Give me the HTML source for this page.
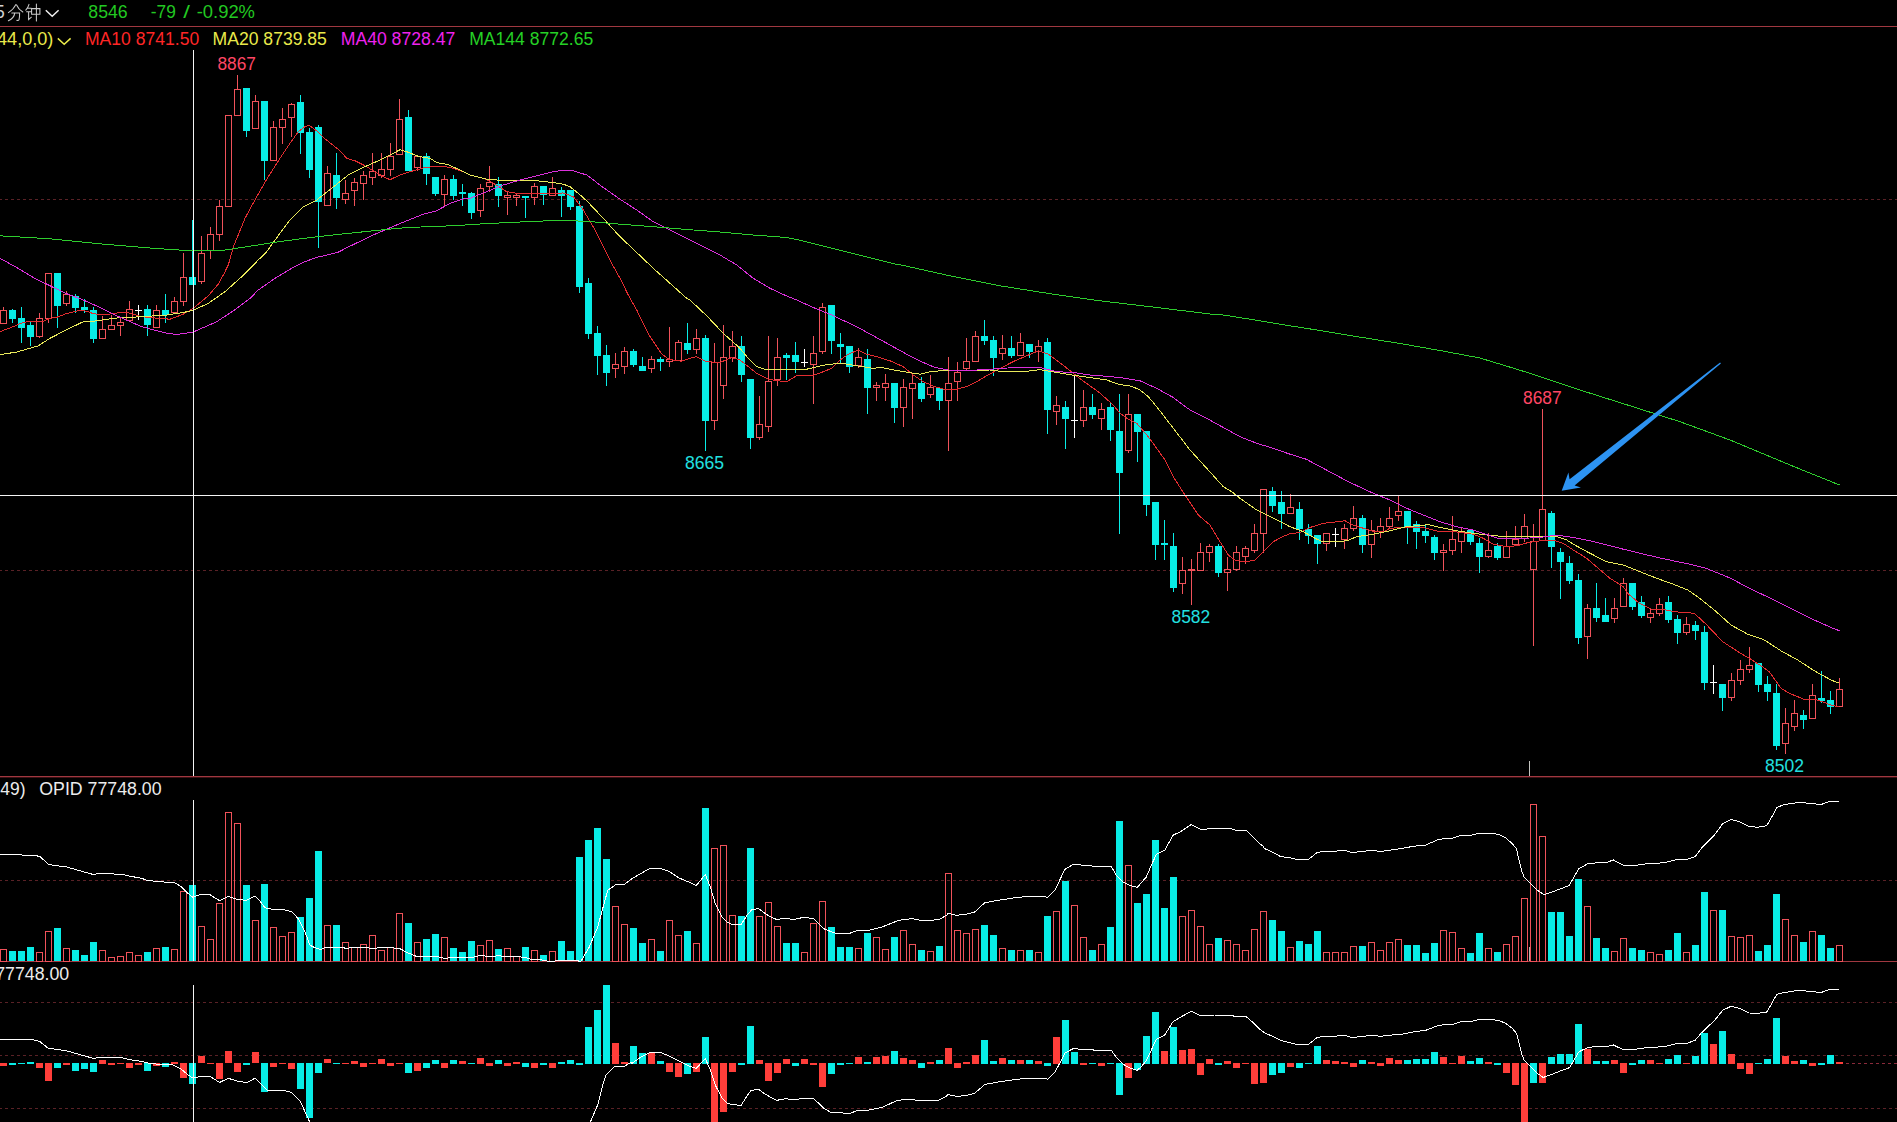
<!DOCTYPE html>
<html><head><meta charset="utf-8"><title>chart</title>
<style>html,body{margin:0;padding:0;background:#000;overflow:hidden}body{width:1897px;height:1122px;position:relative;font-family:"Liberation Sans",sans-serif}</style>
</head><body>
<svg width="1897" height="1122" viewBox="0 0 1897 1122" style="position:absolute;left:0;top:0">
<rect width="1897" height="1122" fill="#000"/>
<g shape-rendering="crispEdges">
<rect x="0" y="26" width="1897" height="1" fill="#a03840"/>
<rect x="0" y="776" width="1897" height="1" fill="#a03840"/>
<rect x="0" y="777" width="1897" height="1" fill="#3c1014"/>
<rect x="0" y="961" width="1897" height="1" fill="#a03840"/>
<line x1="-1" y1="199.5" x2="1897" y2="199.5" stroke="#5a2126" stroke-width="1" stroke-dasharray="3 3"/>
<line x1="-1" y1="570.5" x2="1897" y2="570.5" stroke="#5a2126" stroke-width="1" stroke-dasharray="3 3"/>
<line x1="-1" y1="880.5" x2="1897" y2="880.5" stroke="#5a2126" stroke-width="1" stroke-dasharray="3 3"/>
<line x1="-1" y1="1002.5" x2="1897" y2="1002.5" stroke="#5a2126" stroke-width="1" stroke-dasharray="3 3"/>
<line x1="-1" y1="1055.5" x2="1897" y2="1055.5" stroke="#5a2126" stroke-width="1" stroke-dasharray="3 3"/>
<line x1="-1" y1="1108.5" x2="1897" y2="1108.5" stroke="#5a2126" stroke-width="1" stroke-dasharray="3 3"/>
<line x1="1846" y1="1063.5" x2="1897" y2="1063.5" stroke="#8a2a3a" stroke-width="1" stroke-dasharray="3 3"/>
<rect x="0" y="1063" width="7" height="3" fill="#ff3e3a"/>
<rect x="9" y="1063" width="7" height="2" fill="#08ece6"/>
<rect x="18" y="1063" width="7" height="1" fill="#08ece6"/>
<rect x="27" y="1062" width="7" height="2" fill="#08ece6"/>
<rect x="36" y="1063" width="7" height="5" fill="#ff3e3a"/>
<rect x="45" y="1063" width="7" height="18" fill="#ff3e3a"/>
<rect x="54" y="1063" width="7" height="5" fill="#08ece6"/>
<rect x="63" y="1063" width="7" height="2" fill="#ff3e3a"/>
<rect x="72" y="1063" width="7" height="8" fill="#08ece6"/>
<rect x="81" y="1063" width="7" height="6" fill="#08ece6"/>
<rect x="90" y="1063" width="7" height="9" fill="#08ece6"/>
<rect x="99" y="1060" width="7" height="4" fill="#ff3e3a"/>
<rect x="108" y="1063" width="7" height="2" fill="#ff3e3a"/>
<rect x="117" y="1063" width="7" height="1" fill="#ff3e3a"/>
<rect x="126" y="1063" width="7" height="5" fill="#ff3e3a"/>
<rect x="135" y="1063" width="7" height="2" fill="#ff3e3a"/>
<rect x="144" y="1063" width="7" height="8" fill="#08ece6"/>
<rect x="153" y="1063" width="7" height="3" fill="#ff3e3a"/>
<rect x="162" y="1063" width="7" height="4" fill="#08ece6"/>
<rect x="171" y="1062" width="7" height="2" fill="#ff3e3a"/>
<rect x="180" y="1063" width="7" height="15" fill="#ff3e3a"/>
<rect x="189" y="1063" width="7" height="21" fill="#08ece6"/>
<rect x="198" y="1056" width="7" height="7" fill="#ff3e3a"/>
<rect x="207" y="1063" width="7" height="1" fill="#ff3e3a"/>
<rect x="216" y="1063" width="7" height="16" fill="#ff3e3a"/>
<rect x="225" y="1051" width="7" height="12" fill="#ff3e3a"/>
<rect x="234" y="1063" width="7" height="9" fill="#ff3e3a"/>
<rect x="243" y="1063" width="7" height="2" fill="#08ece6"/>
<rect x="252" y="1052" width="7" height="11" fill="#ff3e3a"/>
<rect x="261" y="1063" width="7" height="29" fill="#08ece6"/>
<rect x="270" y="1063" width="7" height="4" fill="#ff3e3a"/>
<rect x="279" y="1063" width="7" height="1" fill="#ff3e3a"/>
<rect x="288" y="1063" width="7" height="6" fill="#ff3e3a"/>
<rect x="297" y="1063" width="7" height="26" fill="#08ece6"/>
<rect x="306" y="1063" width="7" height="55" fill="#08ece6"/>
<rect x="315" y="1063" width="7" height="10" fill="#08ece6"/>
<rect x="324" y="1059" width="7" height="4" fill="#ff3e3a"/>
<rect x="333" y="1063" width="7" height="1" fill="#08ece6"/>
<rect x="342" y="1063" width="7" height="1" fill="#ff3e3a"/>
<rect x="351" y="1061" width="7" height="3" fill="#ff3e3a"/>
<rect x="360" y="1063" width="7" height="4" fill="#ff3e3a"/>
<rect x="369" y="1063" width="7" height="1" fill="#ff3e3a"/>
<rect x="378" y="1059" width="7" height="5" fill="#ff3e3a"/>
<rect x="387" y="1063" width="7" height="3" fill="#ff3e3a"/>
<rect x="396" y="1063" width="7" height="1" fill="#ff3e3a"/>
<rect x="405" y="1063" width="7" height="10" fill="#08ece6"/>
<rect x="414" y="1063" width="7" height="8" fill="#ff3e3a"/>
<rect x="423" y="1063" width="7" height="5" fill="#08ece6"/>
<rect x="432" y="1060" width="7" height="4" fill="#08ece6"/>
<rect x="441" y="1063" width="7" height="5" fill="#ff3e3a"/>
<rect x="450" y="1060" width="7" height="4" fill="#08ece6"/>
<rect x="459" y="1061" width="7" height="3" fill="#ff3e3a"/>
<rect x="468" y="1063" width="7" height="1" fill="#08ece6"/>
<rect x="477" y="1058" width="7" height="6" fill="#ff3e3a"/>
<rect x="486" y="1063" width="7" height="3" fill="#ff3e3a"/>
<rect x="495" y="1060" width="7" height="4" fill="#08ece6"/>
<rect x="504" y="1063" width="7" height="3" fill="#ff3e3a"/>
<rect x="513" y="1062" width="7" height="2" fill="#ff3e3a"/>
<rect x="522" y="1063" width="7" height="4" fill="#08ece6"/>
<rect x="531" y="1063" width="7" height="5" fill="#ff3e3a"/>
<rect x="540" y="1063" width="7" height="2" fill="#08ece6"/>
<rect x="549" y="1063" width="7" height="5" fill="#ff3e3a"/>
<rect x="558" y="1062" width="7" height="2" fill="#08ece6"/>
<rect x="567" y="1060" width="7" height="4" fill="#08ece6"/>
<rect x="576" y="1063" width="7" height="2" fill="#08ece6"/>
<rect x="585" y="1027" width="7" height="37" fill="#08ece6"/>
<rect x="594" y="1010" width="7" height="54" fill="#08ece6"/>
<rect x="603" y="985" width="7" height="79" fill="#08ece6"/>
<rect x="612" y="1043" width="7" height="21" fill="#ff3e3a"/>
<rect x="621" y="1062" width="7" height="2" fill="#ff3e3a"/>
<rect x="630" y="1046" width="7" height="18" fill="#08ece6"/>
<rect x="639" y="1053" width="7" height="11" fill="#08ece6"/>
<rect x="648" y="1053" width="7" height="11" fill="#ff3e3a"/>
<rect x="657" y="1061" width="7" height="3" fill="#08ece6"/>
<rect x="666" y="1063" width="7" height="9" fill="#ff3e3a"/>
<rect x="675" y="1063" width="7" height="14" fill="#ff3e3a"/>
<rect x="684" y="1063" width="7" height="11" fill="#08ece6"/>
<rect x="693" y="1063" width="7" height="9" fill="#ff3e3a"/>
<rect x="702" y="1037" width="7" height="27" fill="#08ece6"/>
<rect x="711" y="1063" width="7" height="60" fill="#ff3e3a"/>
<rect x="720" y="1063" width="7" height="49" fill="#ff3e3a"/>
<rect x="729" y="1063" width="7" height="9" fill="#ff3e3a"/>
<rect x="738" y="1063" width="7" height="2" fill="#08ece6"/>
<rect x="747" y="1026" width="7" height="38" fill="#08ece6"/>
<rect x="756" y="1060" width="7" height="4" fill="#ff3e3a"/>
<rect x="765" y="1063" width="7" height="18" fill="#ff3e3a"/>
<rect x="774" y="1063" width="7" height="10" fill="#ff3e3a"/>
<rect x="783" y="1059" width="7" height="5" fill="#ff3e3a"/>
<rect x="792" y="1063" width="7" height="3" fill="#08ece6"/>
<rect x="801" y="1059" width="7" height="5" fill="#ff3e3a"/>
<rect x="810" y="1063" width="7" height="2" fill="#ff3e3a"/>
<rect x="819" y="1063" width="7" height="24" fill="#ff3e3a"/>
<rect x="828" y="1063" width="7" height="11" fill="#08ece6"/>
<rect x="837" y="1063" width="7" height="2" fill="#08ece6"/>
<rect x="846" y="1063" width="7" height="1" fill="#08ece6"/>
<rect x="855" y="1057" width="7" height="7" fill="#ff3e3a"/>
<rect x="864" y="1062" width="7" height="2" fill="#08ece6"/>
<rect x="873" y="1057" width="7" height="7" fill="#ff3e3a"/>
<rect x="882" y="1056" width="7" height="8" fill="#ff3e3a"/>
<rect x="891" y="1051" width="7" height="13" fill="#08ece6"/>
<rect x="900" y="1058" width="7" height="6" fill="#ff3e3a"/>
<rect x="909" y="1060" width="7" height="4" fill="#ff3e3a"/>
<rect x="918" y="1063" width="7" height="5" fill="#08ece6"/>
<rect x="927" y="1062" width="7" height="2" fill="#ff3e3a"/>
<rect x="936" y="1060" width="7" height="4" fill="#08ece6"/>
<rect x="945" y="1048" width="7" height="16" fill="#ff3e3a"/>
<rect x="954" y="1063" width="7" height="5" fill="#ff3e3a"/>
<rect x="963" y="1062" width="7" height="2" fill="#ff3e3a"/>
<rect x="972" y="1055" width="7" height="9" fill="#ff3e3a"/>
<rect x="981" y="1040" width="7" height="24" fill="#08ece6"/>
<rect x="990" y="1061" width="7" height="3" fill="#08ece6"/>
<rect x="999" y="1058" width="7" height="6" fill="#ff3e3a"/>
<rect x="1008" y="1060" width="7" height="4" fill="#08ece6"/>
<rect x="1017" y="1060" width="7" height="4" fill="#ff3e3a"/>
<rect x="1026" y="1060" width="7" height="4" fill="#08ece6"/>
<rect x="1035" y="1061" width="7" height="3" fill="#ff3e3a"/>
<rect x="1044" y="1063" width="7" height="3" fill="#08ece6"/>
<rect x="1053" y="1037" width="7" height="27" fill="#ff3e3a"/>
<rect x="1062" y="1020" width="7" height="44" fill="#08ece6"/>
<rect x="1071" y="1052" width="7" height="12" fill="#08ece6"/>
<rect x="1080" y="1063" width="7" height="2" fill="#ff3e3a"/>
<rect x="1089" y="1063" width="7" height="1" fill="#08ece6"/>
<rect x="1098" y="1063" width="7" height="3" fill="#ff3e3a"/>
<rect x="1107" y="1063" width="7" height="1" fill="#08ece6"/>
<rect x="1116" y="1063" width="7" height="32" fill="#08ece6"/>
<rect x="1125" y="1063" width="7" height="15" fill="#ff3e3a"/>
<rect x="1134" y="1063" width="7" height="7" fill="#08ece6"/>
<rect x="1143" y="1036" width="7" height="28" fill="#08ece6"/>
<rect x="1152" y="1012" width="7" height="52" fill="#08ece6"/>
<rect x="1161" y="1051" width="7" height="13" fill="#ff3e3a"/>
<rect x="1170" y="1027" width="7" height="37" fill="#08ece6"/>
<rect x="1179" y="1050" width="7" height="14" fill="#ff3e3a"/>
<rect x="1188" y="1049" width="7" height="15" fill="#ff3e3a"/>
<rect x="1197" y="1063" width="7" height="12" fill="#ff3e3a"/>
<rect x="1206" y="1059" width="7" height="5" fill="#ff3e3a"/>
<rect x="1215" y="1063" width="7" height="2" fill="#08ece6"/>
<rect x="1224" y="1061" width="7" height="3" fill="#ff3e3a"/>
<rect x="1233" y="1063" width="7" height="5" fill="#ff3e3a"/>
<rect x="1242" y="1063" width="7" height="1" fill="#ff3e3a"/>
<rect x="1251" y="1063" width="7" height="21" fill="#ff3e3a"/>
<rect x="1260" y="1063" width="7" height="20" fill="#ff3e3a"/>
<rect x="1269" y="1063" width="7" height="12" fill="#08ece6"/>
<rect x="1278" y="1063" width="7" height="10" fill="#08ece6"/>
<rect x="1287" y="1063" width="7" height="4" fill="#ff3e3a"/>
<rect x="1296" y="1063" width="7" height="5" fill="#08ece6"/>
<rect x="1305" y="1063" width="7" height="1" fill="#08ece6"/>
<rect x="1314" y="1046" width="7" height="18" fill="#08ece6"/>
<rect x="1323" y="1060" width="7" height="4" fill="#ff3e3a"/>
<rect x="1332" y="1061" width="7" height="3" fill="#ff3e3a"/>
<rect x="1341" y="1062" width="7" height="2" fill="#ff3e3a"/>
<rect x="1350" y="1063" width="7" height="4" fill="#ff3e3a"/>
<rect x="1359" y="1060" width="7" height="4" fill="#08ece6"/>
<rect x="1368" y="1062" width="7" height="2" fill="#ff3e3a"/>
<rect x="1377" y="1063" width="7" height="3" fill="#ff3e3a"/>
<rect x="1386" y="1058" width="7" height="6" fill="#ff3e3a"/>
<rect x="1395" y="1060" width="7" height="4" fill="#ff3e3a"/>
<rect x="1404" y="1060" width="7" height="4" fill="#08ece6"/>
<rect x="1413" y="1059" width="7" height="5" fill="#08ece6"/>
<rect x="1422" y="1059" width="7" height="5" fill="#08ece6"/>
<rect x="1431" y="1052" width="7" height="12" fill="#08ece6"/>
<rect x="1440" y="1057" width="7" height="7" fill="#ff3e3a"/>
<rect x="1449" y="1063" width="7" height="1" fill="#ff3e3a"/>
<rect x="1458" y="1056" width="7" height="8" fill="#ff3e3a"/>
<rect x="1467" y="1061" width="7" height="3" fill="#08ece6"/>
<rect x="1476" y="1058" width="7" height="6" fill="#08ece6"/>
<rect x="1485" y="1062" width="7" height="2" fill="#ff3e3a"/>
<rect x="1494" y="1063" width="7" height="2" fill="#08ece6"/>
<rect x="1503" y="1063" width="7" height="10" fill="#ff3e3a"/>
<rect x="1512" y="1063" width="7" height="22" fill="#ff3e3a"/>
<rect x="1521" y="1063" width="7" height="60" fill="#ff3e3a"/>
<rect x="1530" y="1063" width="7" height="20" fill="#08ece6"/>
<rect x="1539" y="1063" width="7" height="20" fill="#ff3e3a"/>
<rect x="1548" y="1057" width="7" height="7" fill="#08ece6"/>
<rect x="1557" y="1054" width="7" height="10" fill="#08ece6"/>
<rect x="1566" y="1054" width="7" height="10" fill="#08ece6"/>
<rect x="1575" y="1024" width="7" height="40" fill="#08ece6"/>
<rect x="1584" y="1049" width="7" height="15" fill="#ff3e3a"/>
<rect x="1593" y="1061" width="7" height="3" fill="#08ece6"/>
<rect x="1602" y="1061" width="7" height="3" fill="#08ece6"/>
<rect x="1611" y="1060" width="7" height="4" fill="#ff3e3a"/>
<rect x="1620" y="1063" width="7" height="10" fill="#ff3e3a"/>
<rect x="1629" y="1063" width="7" height="2" fill="#08ece6"/>
<rect x="1638" y="1060" width="7" height="4" fill="#08ece6"/>
<rect x="1647" y="1060" width="7" height="4" fill="#ff3e3a"/>
<rect x="1656" y="1063" width="7" height="1" fill="#ff3e3a"/>
<rect x="1665" y="1059" width="7" height="5" fill="#08ece6"/>
<rect x="1674" y="1055" width="7" height="9" fill="#08ece6"/>
<rect x="1683" y="1063" width="7" height="1" fill="#ff3e3a"/>
<rect x="1692" y="1056" width="7" height="8" fill="#08ece6"/>
<rect x="1701" y="1033" width="7" height="31" fill="#08ece6"/>
<rect x="1710" y="1044" width="7" height="20" fill="#ff3e3a"/>
<rect x="1719" y="1031" width="7" height="33" fill="#08ece6"/>
<rect x="1728" y="1054" width="7" height="10" fill="#ff3e3a"/>
<rect x="1737" y="1063" width="7" height="6" fill="#ff3e3a"/>
<rect x="1746" y="1063" width="7" height="11" fill="#ff3e3a"/>
<rect x="1755" y="1063" width="7" height="1" fill="#08ece6"/>
<rect x="1764" y="1059" width="7" height="5" fill="#08ece6"/>
<rect x="1773" y="1018" width="7" height="46" fill="#08ece6"/>
<rect x="1782" y="1056" width="7" height="8" fill="#ff3e3a"/>
<rect x="1791" y="1061" width="7" height="3" fill="#ff3e3a"/>
<rect x="1800" y="1060" width="7" height="4" fill="#08ece6"/>
<rect x="1809" y="1063" width="7" height="3" fill="#ff3e3a"/>
<rect x="1818" y="1063" width="7" height="2" fill="#08ece6"/>
<rect x="1827" y="1055" width="7" height="9" fill="#08ece6"/>
<rect x="1836" y="1062" width="7" height="2" fill="#ff3e3a"/>
<rect x="0.5" y="949.5" width="6" height="12" fill="none" stroke="#f0525a" stroke-width="1"/>
<rect x="9" y="951" width="7" height="10" fill="#08ece6"/>
<rect x="18" y="951" width="7" height="10" fill="#08ece6"/>
<rect x="27" y="947" width="7" height="14" fill="#08ece6"/>
<rect x="36.5" y="952.5" width="6" height="9" fill="none" stroke="#f0525a" stroke-width="1"/>
<rect x="45.5" y="931.5" width="6" height="30" fill="none" stroke="#f0525a" stroke-width="1"/>
<rect x="54" y="928" width="7" height="33" fill="#08ece6"/>
<rect x="63.5" y="948.5" width="6" height="13" fill="none" stroke="#f0525a" stroke-width="1"/>
<rect x="72" y="950" width="7" height="11" fill="#08ece6"/>
<rect x="81" y="955" width="7" height="6" fill="#08ece6"/>
<rect x="90" y="942" width="7" height="19" fill="#08ece6"/>
<rect x="99.5" y="950.5" width="6" height="11" fill="none" stroke="#f0525a" stroke-width="1"/>
<rect x="108.5" y="957.5" width="6" height="4" fill="none" stroke="#f0525a" stroke-width="1"/>
<rect x="117.5" y="956.5" width="6" height="5" fill="none" stroke="#f0525a" stroke-width="1"/>
<rect x="126.5" y="952.5" width="6" height="9" fill="none" stroke="#f0525a" stroke-width="1"/>
<rect x="135.5" y="955.5" width="6" height="6" fill="none" stroke="#f0525a" stroke-width="1"/>
<rect x="144" y="952" width="7" height="9" fill="#08ece6"/>
<rect x="153.5" y="948.5" width="6" height="13" fill="none" stroke="#f0525a" stroke-width="1"/>
<rect x="162" y="947" width="7" height="14" fill="#08ece6"/>
<rect x="171.5" y="949.5" width="6" height="12" fill="none" stroke="#f0525a" stroke-width="1"/>
<rect x="180.5" y="891.5" width="6" height="70" fill="none" stroke="#f0525a" stroke-width="1"/>
<rect x="189" y="885" width="7" height="76" fill="#08ece6"/>
<rect x="198.5" y="926.5" width="6" height="35" fill="none" stroke="#f0525a" stroke-width="1"/>
<rect x="207.5" y="939.5" width="6" height="22" fill="none" stroke="#f0525a" stroke-width="1"/>
<rect x="216.5" y="903.5" width="6" height="58" fill="none" stroke="#f0525a" stroke-width="1"/>
<rect x="225.5" y="812.5" width="6" height="149" fill="none" stroke="#f0525a" stroke-width="1"/>
<rect x="234.5" y="823.5" width="6" height="138" fill="none" stroke="#f0525a" stroke-width="1"/>
<rect x="243" y="885" width="7" height="76" fill="#08ece6"/>
<rect x="252.5" y="920.5" width="6" height="41" fill="none" stroke="#f0525a" stroke-width="1"/>
<rect x="261" y="884" width="7" height="77" fill="#08ece6"/>
<rect x="270.5" y="927.5" width="6" height="34" fill="none" stroke="#f0525a" stroke-width="1"/>
<rect x="279.5" y="936.5" width="6" height="25" fill="none" stroke="#f0525a" stroke-width="1"/>
<rect x="288.5" y="932.5" width="6" height="29" fill="none" stroke="#f0525a" stroke-width="1"/>
<rect x="297" y="917" width="7" height="44" fill="#08ece6"/>
<rect x="306" y="898" width="7" height="63" fill="#08ece6"/>
<rect x="315" y="851" width="7" height="110" fill="#08ece6"/>
<rect x="324.5" y="925.5" width="6" height="36" fill="none" stroke="#f0525a" stroke-width="1"/>
<rect x="333" y="925" width="7" height="36" fill="#08ece6"/>
<rect x="342.5" y="942.5" width="6" height="19" fill="none" stroke="#f0525a" stroke-width="1"/>
<rect x="351.5" y="947.5" width="6" height="14" fill="none" stroke="#f0525a" stroke-width="1"/>
<rect x="360.5" y="944.5" width="6" height="17" fill="none" stroke="#f0525a" stroke-width="1"/>
<rect x="369.5" y="935.5" width="6" height="26" fill="none" stroke="#f0525a" stroke-width="1"/>
<rect x="378.5" y="950.5" width="6" height="11" fill="none" stroke="#f0525a" stroke-width="1"/>
<rect x="387.5" y="947.5" width="6" height="14" fill="none" stroke="#f0525a" stroke-width="1"/>
<rect x="396.5" y="913.5" width="6" height="48" fill="none" stroke="#f0525a" stroke-width="1"/>
<rect x="405" y="923" width="7" height="38" fill="#08ece6"/>
<rect x="414.5" y="942.5" width="6" height="19" fill="none" stroke="#f0525a" stroke-width="1"/>
<rect x="423" y="939" width="7" height="22" fill="#08ece6"/>
<rect x="432" y="934" width="7" height="27" fill="#08ece6"/>
<rect x="441.5" y="937.5" width="6" height="24" fill="none" stroke="#f0525a" stroke-width="1"/>
<rect x="450" y="948" width="7" height="13" fill="#08ece6"/>
<rect x="459" y="952" width="7" height="9" fill="#08ece6"/>
<rect x="468" y="941" width="7" height="20" fill="#08ece6"/>
<rect x="477.5" y="945.5" width="6" height="16" fill="none" stroke="#f0525a" stroke-width="1"/>
<rect x="486.5" y="940.5" width="6" height="21" fill="none" stroke="#f0525a" stroke-width="1"/>
<rect x="495" y="949" width="7" height="12" fill="#08ece6"/>
<rect x="504.5" y="948.5" width="6" height="13" fill="none" stroke="#f0525a" stroke-width="1"/>
<rect x="513.5" y="956.5" width="6" height="5" fill="none" stroke="#f0525a" stroke-width="1"/>
<rect x="522" y="947" width="7" height="14" fill="#08ece6"/>
<rect x="531.5" y="950.5" width="6" height="11" fill="none" stroke="#f0525a" stroke-width="1"/>
<rect x="540" y="955" width="7" height="6" fill="#08ece6"/>
<rect x="549.5" y="951.5" width="6" height="10" fill="none" stroke="#f0525a" stroke-width="1"/>
<rect x="558" y="941" width="7" height="20" fill="#08ece6"/>
<rect x="567" y="951" width="7" height="10" fill="#08ece6"/>
<rect x="576" y="857" width="7" height="104" fill="#08ece6"/>
<rect x="585" y="840" width="7" height="121" fill="#08ece6"/>
<rect x="594" y="828" width="7" height="133" fill="#08ece6"/>
<rect x="603" y="859" width="7" height="102" fill="#08ece6"/>
<rect x="612.5" y="906.5" width="6" height="55" fill="none" stroke="#f0525a" stroke-width="1"/>
<rect x="621.5" y="924.5" width="6" height="37" fill="none" stroke="#f0525a" stroke-width="1"/>
<rect x="630" y="928" width="7" height="33" fill="#08ece6"/>
<rect x="639" y="943" width="7" height="18" fill="#08ece6"/>
<rect x="648.5" y="939.5" width="6" height="22" fill="none" stroke="#f0525a" stroke-width="1"/>
<rect x="657" y="951" width="7" height="10" fill="#08ece6"/>
<rect x="666.5" y="920.5" width="6" height="41" fill="none" stroke="#f0525a" stroke-width="1"/>
<rect x="675.5" y="935.5" width="6" height="26" fill="none" stroke="#f0525a" stroke-width="1"/>
<rect x="684" y="931" width="7" height="30" fill="#08ece6"/>
<rect x="693.5" y="943.5" width="6" height="18" fill="none" stroke="#f0525a" stroke-width="1"/>
<rect x="702" y="808" width="7" height="153" fill="#08ece6"/>
<rect x="711.5" y="848.5" width="6" height="113" fill="none" stroke="#f0525a" stroke-width="1"/>
<rect x="720.5" y="845.5" width="6" height="116" fill="none" stroke="#f0525a" stroke-width="1"/>
<rect x="729.5" y="915.5" width="6" height="46" fill="none" stroke="#f0525a" stroke-width="1"/>
<rect x="738" y="916" width="7" height="45" fill="#08ece6"/>
<rect x="747" y="848" width="7" height="113" fill="#08ece6"/>
<rect x="756.5" y="916.5" width="6" height="45" fill="none" stroke="#f0525a" stroke-width="1"/>
<rect x="765.5" y="902.5" width="6" height="59" fill="none" stroke="#f0525a" stroke-width="1"/>
<rect x="774.5" y="926.5" width="6" height="35" fill="none" stroke="#f0525a" stroke-width="1"/>
<rect x="783" y="943" width="7" height="18" fill="#08ece6"/>
<rect x="792" y="943" width="7" height="18" fill="#08ece6"/>
<rect x="801.5" y="952.5" width="6" height="9" fill="none" stroke="#f0525a" stroke-width="1"/>
<rect x="810.5" y="923.5" width="6" height="38" fill="none" stroke="#f0525a" stroke-width="1"/>
<rect x="819.5" y="901.5" width="6" height="60" fill="none" stroke="#f0525a" stroke-width="1"/>
<rect x="828" y="927" width="7" height="34" fill="#08ece6"/>
<rect x="837" y="947" width="7" height="14" fill="#08ece6"/>
<rect x="846" y="947" width="7" height="14" fill="#08ece6"/>
<rect x="855.5" y="948.5" width="6" height="13" fill="none" stroke="#f0525a" stroke-width="1"/>
<rect x="864" y="933" width="7" height="28" fill="#08ece6"/>
<rect x="873.5" y="937.5" width="6" height="24" fill="none" stroke="#f0525a" stroke-width="1"/>
<rect x="882.5" y="949.5" width="6" height="12" fill="none" stroke="#f0525a" stroke-width="1"/>
<rect x="891" y="937" width="7" height="24" fill="#08ece6"/>
<rect x="900.5" y="930.5" width="6" height="31" fill="none" stroke="#f0525a" stroke-width="1"/>
<rect x="909.5" y="944.5" width="6" height="17" fill="none" stroke="#f0525a" stroke-width="1"/>
<rect x="918" y="950" width="7" height="11" fill="#08ece6"/>
<rect x="927.5" y="951.5" width="6" height="10" fill="none" stroke="#f0525a" stroke-width="1"/>
<rect x="936" y="946" width="7" height="15" fill="#08ece6"/>
<rect x="945.5" y="873.5" width="6" height="88" fill="none" stroke="#f0525a" stroke-width="1"/>
<rect x="954.5" y="930.5" width="6" height="31" fill="none" stroke="#f0525a" stroke-width="1"/>
<rect x="963.5" y="933.5" width="6" height="28" fill="none" stroke="#f0525a" stroke-width="1"/>
<rect x="972.5" y="929.5" width="6" height="32" fill="none" stroke="#f0525a" stroke-width="1"/>
<rect x="981" y="925" width="7" height="36" fill="#08ece6"/>
<rect x="990" y="935" width="7" height="26" fill="#08ece6"/>
<rect x="999.5" y="948.5" width="6" height="13" fill="none" stroke="#f0525a" stroke-width="1"/>
<rect x="1008" y="950" width="7" height="11" fill="#08ece6"/>
<rect x="1017.5" y="950.5" width="6" height="11" fill="none" stroke="#f0525a" stroke-width="1"/>
<rect x="1026" y="950" width="7" height="11" fill="#08ece6"/>
<rect x="1035.5" y="952.5" width="6" height="9" fill="none" stroke="#f0525a" stroke-width="1"/>
<rect x="1044" y="916" width="7" height="45" fill="#08ece6"/>
<rect x="1053.5" y="911.5" width="6" height="50" fill="none" stroke="#f0525a" stroke-width="1"/>
<rect x="1062" y="881" width="7" height="80" fill="#08ece6"/>
<rect x="1071.5" y="905.5" width="6" height="56" fill="none" stroke="#f0525a" stroke-width="1"/>
<rect x="1080.5" y="937.5" width="6" height="24" fill="none" stroke="#f0525a" stroke-width="1"/>
<rect x="1089" y="950" width="7" height="11" fill="#08ece6"/>
<rect x="1098.5" y="944.5" width="6" height="17" fill="none" stroke="#f0525a" stroke-width="1"/>
<rect x="1107" y="927" width="7" height="34" fill="#08ece6"/>
<rect x="1116" y="821" width="7" height="140" fill="#08ece6"/>
<rect x="1125.5" y="865.5" width="6" height="96" fill="none" stroke="#f0525a" stroke-width="1"/>
<rect x="1134" y="903" width="7" height="58" fill="#08ece6"/>
<rect x="1143" y="894" width="7" height="67" fill="#08ece6"/>
<rect x="1152" y="840" width="7" height="121" fill="#08ece6"/>
<rect x="1161" y="908" width="7" height="53" fill="#08ece6"/>
<rect x="1170" y="877" width="7" height="84" fill="#08ece6"/>
<rect x="1179.5" y="916.5" width="6" height="45" fill="none" stroke="#f0525a" stroke-width="1"/>
<rect x="1188.5" y="910.5" width="6" height="51" fill="none" stroke="#f0525a" stroke-width="1"/>
<rect x="1197.5" y="926.5" width="6" height="35" fill="none" stroke="#f0525a" stroke-width="1"/>
<rect x="1206.5" y="944.5" width="6" height="17" fill="none" stroke="#f0525a" stroke-width="1"/>
<rect x="1215" y="938" width="7" height="23" fill="#08ece6"/>
<rect x="1224.5" y="940.5" width="6" height="21" fill="none" stroke="#f0525a" stroke-width="1"/>
<rect x="1233.5" y="944.5" width="6" height="17" fill="none" stroke="#f0525a" stroke-width="1"/>
<rect x="1242.5" y="950.5" width="6" height="11" fill="none" stroke="#f0525a" stroke-width="1"/>
<rect x="1251.5" y="929.5" width="6" height="32" fill="none" stroke="#f0525a" stroke-width="1"/>
<rect x="1260.5" y="911.5" width="6" height="50" fill="none" stroke="#f0525a" stroke-width="1"/>
<rect x="1269" y="920" width="7" height="41" fill="#08ece6"/>
<rect x="1278" y="931" width="7" height="30" fill="#08ece6"/>
<rect x="1287.5" y="947.5" width="6" height="14" fill="none" stroke="#f0525a" stroke-width="1"/>
<rect x="1296" y="941" width="7" height="20" fill="#08ece6"/>
<rect x="1305" y="944" width="7" height="17" fill="#08ece6"/>
<rect x="1314" y="931" width="7" height="30" fill="#08ece6"/>
<rect x="1323.5" y="952.5" width="6" height="9" fill="none" stroke="#f0525a" stroke-width="1"/>
<rect x="1332.5" y="952.5" width="6" height="9" fill="none" stroke="#f0525a" stroke-width="1"/>
<rect x="1341.5" y="952.5" width="6" height="9" fill="none" stroke="#f0525a" stroke-width="1"/>
<rect x="1350.5" y="946.5" width="6" height="15" fill="none" stroke="#f0525a" stroke-width="1"/>
<rect x="1359" y="946" width="7" height="15" fill="#08ece6"/>
<rect x="1368.5" y="942.5" width="6" height="19" fill="none" stroke="#f0525a" stroke-width="1"/>
<rect x="1377.5" y="950.5" width="6" height="11" fill="none" stroke="#f0525a" stroke-width="1"/>
<rect x="1386.5" y="942.5" width="6" height="19" fill="none" stroke="#f0525a" stroke-width="1"/>
<rect x="1395.5" y="939.5" width="6" height="22" fill="none" stroke="#f0525a" stroke-width="1"/>
<rect x="1404" y="945" width="7" height="16" fill="#08ece6"/>
<rect x="1413" y="945" width="7" height="16" fill="#08ece6"/>
<rect x="1422" y="953" width="7" height="8" fill="#08ece6"/>
<rect x="1431" y="943" width="7" height="18" fill="#08ece6"/>
<rect x="1440.5" y="930.5" width="6" height="31" fill="none" stroke="#f0525a" stroke-width="1"/>
<rect x="1449.5" y="932.5" width="6" height="29" fill="none" stroke="#f0525a" stroke-width="1"/>
<rect x="1458.5" y="948.5" width="6" height="13" fill="none" stroke="#f0525a" stroke-width="1"/>
<rect x="1467" y="953" width="7" height="8" fill="#08ece6"/>
<rect x="1476" y="933" width="7" height="28" fill="#08ece6"/>
<rect x="1485.5" y="948.5" width="6" height="13" fill="none" stroke="#f0525a" stroke-width="1"/>
<rect x="1494" y="952" width="7" height="9" fill="#08ece6"/>
<rect x="1503.5" y="944.5" width="6" height="17" fill="none" stroke="#f0525a" stroke-width="1"/>
<rect x="1512.5" y="936.5" width="6" height="25" fill="none" stroke="#f0525a" stroke-width="1"/>
<rect x="1521.5" y="898.5" width="6" height="63" fill="none" stroke="#f0525a" stroke-width="1"/>
<rect x="1530.5" y="804.5" width="6" height="157" fill="none" stroke="#f0525a" stroke-width="1"/>
<rect x="1539.5" y="836.5" width="6" height="125" fill="none" stroke="#f0525a" stroke-width="1"/>
<rect x="1548" y="912" width="7" height="49" fill="#08ece6"/>
<rect x="1557" y="912" width="7" height="49" fill="#08ece6"/>
<rect x="1566" y="936" width="7" height="25" fill="#08ece6"/>
<rect x="1575" y="879" width="7" height="82" fill="#08ece6"/>
<rect x="1584.5" y="906.5" width="6" height="55" fill="none" stroke="#f0525a" stroke-width="1"/>
<rect x="1593" y="938" width="7" height="23" fill="#08ece6"/>
<rect x="1602" y="948" width="7" height="13" fill="#08ece6"/>
<rect x="1611.5" y="951.5" width="6" height="10" fill="none" stroke="#f0525a" stroke-width="1"/>
<rect x="1620.5" y="938.5" width="6" height="23" fill="none" stroke="#f0525a" stroke-width="1"/>
<rect x="1629" y="948" width="7" height="13" fill="#08ece6"/>
<rect x="1638" y="950" width="7" height="11" fill="#08ece6"/>
<rect x="1647.5" y="952.5" width="6" height="9" fill="none" stroke="#f0525a" stroke-width="1"/>
<rect x="1656.5" y="954.5" width="6" height="7" fill="none" stroke="#f0525a" stroke-width="1"/>
<rect x="1665" y="950" width="7" height="11" fill="#08ece6"/>
<rect x="1674" y="933" width="7" height="28" fill="#08ece6"/>
<rect x="1683.5" y="952.5" width="6" height="9" fill="none" stroke="#f0525a" stroke-width="1"/>
<rect x="1692" y="945" width="7" height="16" fill="#08ece6"/>
<rect x="1701" y="892" width="7" height="69" fill="#08ece6"/>
<rect x="1710.5" y="910.5" width="6" height="51" fill="none" stroke="#f0525a" stroke-width="1"/>
<rect x="1719" y="910" width="7" height="51" fill="#08ece6"/>
<rect x="1728.5" y="936.5" width="6" height="25" fill="none" stroke="#f0525a" stroke-width="1"/>
<rect x="1737.5" y="937.5" width="6" height="24" fill="none" stroke="#f0525a" stroke-width="1"/>
<rect x="1746.5" y="935.5" width="6" height="26" fill="none" stroke="#f0525a" stroke-width="1"/>
<rect x="1755" y="951" width="7" height="10" fill="#08ece6"/>
<rect x="1764" y="945" width="7" height="16" fill="#08ece6"/>
<rect x="1773" y="894" width="7" height="67" fill="#08ece6"/>
<rect x="1782.5" y="919.5" width="6" height="42" fill="none" stroke="#f0525a" stroke-width="1"/>
<rect x="1791.5" y="935.5" width="6" height="26" fill="none" stroke="#f0525a" stroke-width="1"/>
<rect x="1800" y="942" width="7" height="19" fill="#08ece6"/>
<rect x="1809.5" y="931.5" width="6" height="30" fill="none" stroke="#f0525a" stroke-width="1"/>
<rect x="1818" y="935" width="7" height="26" fill="#08ece6"/>
<rect x="1827" y="948" width="7" height="13" fill="#08ece6"/>
<rect x="1836.5" y="945.5" width="6" height="16" fill="none" stroke="#f0525a" stroke-width="1"/>
<rect x="1529" y="761" width="1" height="15" fill="#c4c4c0"/>
<rect x="1529" y="947" width="1" height="14" fill="#b4b4b0"/>
<rect x="3" y="307" width="1" height="3" fill="#f0525a"/>
<rect x="0.5" y="310.5" width="6" height="13" fill="none" stroke="#f0525a" stroke-width="1"/>
<rect x="12" y="309" width="1" height="14" fill="#08ece6"/>
<rect x="9" y="310" width="7" height="9" fill="#08ece6"/>
<rect x="21" y="307" width="1" height="36" fill="#08ece6"/>
<rect x="18" y="318" width="7" height="10" fill="#08ece6"/>
<rect x="30" y="322" width="1" height="24" fill="#08ece6"/>
<rect x="27" y="325" width="7" height="12" fill="#08ece6"/>
<rect x="39" y="313" width="1" height="5" fill="#f0525a"/>
<rect x="39" y="337" width="1" height="1" fill="#f0525a"/>
<rect x="36.5" y="318.5" width="6" height="18" fill="none" stroke="#f0525a" stroke-width="1"/>
<rect x="48" y="319" width="1" height="4" fill="#f0525a"/>
<rect x="45.5" y="273.5" width="6" height="45" fill="none" stroke="#f0525a" stroke-width="1"/>
<rect x="57" y="273" width="1" height="55" fill="#08ece6"/>
<rect x="54" y="273" width="7" height="33" fill="#08ece6"/>
<rect x="66" y="291" width="1" height="3" fill="#f0525a"/>
<rect x="66" y="304" width="1" height="2" fill="#f0525a"/>
<rect x="63.5" y="294.5" width="6" height="9" fill="none" stroke="#f0525a" stroke-width="1"/>
<rect x="75" y="294" width="1" height="19" fill="#08ece6"/>
<rect x="72" y="296" width="7" height="12" fill="#08ece6"/>
<rect x="84" y="299" width="1" height="14" fill="#08ece6"/>
<rect x="81" y="307" width="7" height="3" fill="#08ece6"/>
<rect x="93" y="307" width="1" height="36" fill="#08ece6"/>
<rect x="90" y="310" width="7" height="29" fill="#08ece6"/>
<rect x="102" y="316" width="1" height="13" fill="#f0525a"/>
<rect x="99.5" y="329.5" width="6" height="9" fill="none" stroke="#f0525a" stroke-width="1"/>
<rect x="111" y="315" width="1" height="10" fill="#f0525a"/>
<rect x="108.5" y="325.5" width="6" height="4" fill="none" stroke="#f0525a" stroke-width="1"/>
<rect x="120" y="317" width="1" height="5" fill="#f0525a"/>
<rect x="120" y="326" width="1" height="10" fill="#f0525a"/>
<rect x="117.5" y="322.5" width="6" height="3" fill="none" stroke="#f0525a" stroke-width="1"/>
<rect x="129" y="301" width="1" height="8" fill="#f0525a"/>
<rect x="126.5" y="309.5" width="6" height="11" fill="none" stroke="#f0525a" stroke-width="1"/>
<rect x="138" y="305" width="1" height="15" fill="#fff"/>
<rect x="135" y="310" width="7" height="1" fill="#fff"/>
<rect x="147" y="305" width="1" height="31" fill="#08ece6"/>
<rect x="144" y="309" width="7" height="16" fill="#08ece6"/>
<rect x="156" y="305" width="1" height="5" fill="#f0525a"/>
<rect x="153.5" y="310.5" width="6" height="17" fill="none" stroke="#f0525a" stroke-width="1"/>
<rect x="165" y="294" width="1" height="29" fill="#08ece6"/>
<rect x="162" y="310" width="7" height="5" fill="#08ece6"/>
<rect x="174" y="297" width="1" height="4" fill="#f0525a"/>
<rect x="171.5" y="301.5" width="6" height="11" fill="none" stroke="#f0525a" stroke-width="1"/>
<rect x="183" y="253" width="1" height="24" fill="#f0525a"/>
<rect x="183" y="302" width="1" height="4" fill="#f0525a"/>
<rect x="180.5" y="277.5" width="6" height="24" fill="none" stroke="#f0525a" stroke-width="1"/>
<rect x="192" y="220" width="1" height="65" fill="#08ece6"/>
<rect x="189" y="277" width="7" height="8" fill="#08ece6"/>
<rect x="201" y="236" width="1" height="17" fill="#f0525a"/>
<rect x="201" y="282" width="1" height="2" fill="#f0525a"/>
<rect x="198.5" y="253.5" width="6" height="28" fill="none" stroke="#f0525a" stroke-width="1"/>
<rect x="210" y="227" width="1" height="7" fill="#f0525a"/>
<rect x="210" y="251" width="1" height="8" fill="#f0525a"/>
<rect x="207.5" y="234.5" width="6" height="16" fill="none" stroke="#f0525a" stroke-width="1"/>
<rect x="219" y="200" width="1" height="6" fill="#f0525a"/>
<rect x="219" y="235" width="1" height="6" fill="#f0525a"/>
<rect x="216.5" y="206.5" width="6" height="28" fill="none" stroke="#f0525a" stroke-width="1"/>
<rect x="225.5" y="115.5" width="6" height="91" fill="none" stroke="#f0525a" stroke-width="1"/>
<rect x="237" y="75" width="1" height="14" fill="#f0525a"/>
<rect x="234.5" y="89.5" width="6" height="26" fill="none" stroke="#f0525a" stroke-width="1"/>
<rect x="246" y="88" width="1" height="49" fill="#08ece6"/>
<rect x="243" y="88" width="7" height="43" fill="#08ece6"/>
<rect x="255" y="95" width="1" height="6" fill="#f0525a"/>
<rect x="252.5" y="101.5" width="6" height="27" fill="none" stroke="#f0525a" stroke-width="1"/>
<rect x="264" y="101" width="1" height="79" fill="#08ece6"/>
<rect x="261" y="101" width="7" height="60" fill="#08ece6"/>
<rect x="273" y="121" width="1" height="6" fill="#f0525a"/>
<rect x="270.5" y="127.5" width="6" height="33" fill="none" stroke="#f0525a" stroke-width="1"/>
<rect x="282" y="108" width="1" height="11" fill="#f0525a"/>
<rect x="282" y="128" width="1" height="16" fill="#f0525a"/>
<rect x="279.5" y="119.5" width="6" height="8" fill="none" stroke="#f0525a" stroke-width="1"/>
<rect x="291" y="103" width="1" height="1" fill="#f0525a"/>
<rect x="291" y="118" width="1" height="19" fill="#f0525a"/>
<rect x="288.5" y="104.5" width="6" height="13" fill="none" stroke="#f0525a" stroke-width="1"/>
<rect x="300" y="95" width="1" height="59" fill="#08ece6"/>
<rect x="297" y="102" width="7" height="31" fill="#08ece6"/>
<rect x="309" y="128" width="1" height="50" fill="#08ece6"/>
<rect x="306" y="132" width="7" height="38" fill="#08ece6"/>
<rect x="318" y="125" width="1" height="123" fill="#08ece6"/>
<rect x="315" y="127" width="7" height="75" fill="#08ece6"/>
<rect x="327" y="166" width="1" height="7" fill="#f0525a"/>
<rect x="324.5" y="173.5" width="6" height="32" fill="none" stroke="#f0525a" stroke-width="1"/>
<rect x="336" y="153" width="1" height="56" fill="#08ece6"/>
<rect x="333" y="175" width="7" height="23" fill="#08ece6"/>
<rect x="345" y="180" width="1" height="13" fill="#f0525a"/>
<rect x="345" y="200" width="1" height="4" fill="#f0525a"/>
<rect x="342.5" y="193.5" width="6" height="6" fill="none" stroke="#f0525a" stroke-width="1"/>
<rect x="354" y="178" width="1" height="4" fill="#f0525a"/>
<rect x="354" y="191" width="1" height="15" fill="#f0525a"/>
<rect x="351.5" y="182.5" width="6" height="8" fill="none" stroke="#f0525a" stroke-width="1"/>
<rect x="363" y="171" width="1" height="4" fill="#f0525a"/>
<rect x="363" y="184" width="1" height="16" fill="#f0525a"/>
<rect x="360.5" y="175.5" width="6" height="8" fill="none" stroke="#f0525a" stroke-width="1"/>
<rect x="372" y="153" width="1" height="18" fill="#f0525a"/>
<rect x="372" y="178" width="1" height="7" fill="#f0525a"/>
<rect x="369.5" y="171.5" width="6" height="6" fill="none" stroke="#f0525a" stroke-width="1"/>
<rect x="381" y="153" width="1" height="16" fill="#f0525a"/>
<rect x="381" y="176" width="1" height="2" fill="#f0525a"/>
<rect x="378.5" y="169.5" width="6" height="6" fill="none" stroke="#f0525a" stroke-width="1"/>
<rect x="390" y="143" width="1" height="13" fill="#f0525a"/>
<rect x="390" y="170" width="1" height="6" fill="#f0525a"/>
<rect x="387.5" y="156.5" width="6" height="13" fill="none" stroke="#f0525a" stroke-width="1"/>
<rect x="399" y="99" width="1" height="20" fill="#f0525a"/>
<rect x="396.5" y="119.5" width="6" height="35" fill="none" stroke="#f0525a" stroke-width="1"/>
<rect x="408" y="110" width="1" height="61" fill="#08ece6"/>
<rect x="405" y="117" width="7" height="54" fill="#08ece6"/>
<rect x="417" y="168" width="1" height="3" fill="#f0525a"/>
<rect x="414.5" y="156.5" width="6" height="11" fill="none" stroke="#f0525a" stroke-width="1"/>
<rect x="426" y="153" width="1" height="32" fill="#08ece6"/>
<rect x="423" y="156" width="7" height="18" fill="#08ece6"/>
<rect x="435" y="177" width="1" height="19" fill="#08ece6"/>
<rect x="432" y="177" width="7" height="17" fill="#08ece6"/>
<rect x="444" y="175" width="1" height="4" fill="#f0525a"/>
<rect x="444" y="195" width="1" height="11" fill="#f0525a"/>
<rect x="441.5" y="179.5" width="6" height="15" fill="none" stroke="#f0525a" stroke-width="1"/>
<rect x="453" y="175" width="1" height="25" fill="#08ece6"/>
<rect x="450" y="179" width="7" height="17" fill="#08ece6"/>
<rect x="462" y="184" width="1" height="22" fill="#08ece6"/>
<rect x="459" y="192" width="7" height="2" fill="#08ece6"/>
<rect x="471" y="192" width="1" height="27" fill="#08ece6"/>
<rect x="468" y="193" width="7" height="20" fill="#08ece6"/>
<rect x="480" y="184" width="1" height="4" fill="#f0525a"/>
<rect x="480" y="211" width="1" height="6" fill="#f0525a"/>
<rect x="477.5" y="188.5" width="6" height="22" fill="none" stroke="#f0525a" stroke-width="1"/>
<rect x="489" y="166" width="1" height="16" fill="#f0525a"/>
<rect x="489" y="187" width="1" height="5" fill="#f0525a"/>
<rect x="486.5" y="182.5" width="6" height="4" fill="none" stroke="#f0525a" stroke-width="1"/>
<rect x="498" y="177" width="1" height="30" fill="#08ece6"/>
<rect x="495" y="184" width="7" height="12" fill="#08ece6"/>
<rect x="507" y="191" width="1" height="4" fill="#f0525a"/>
<rect x="507" y="198" width="1" height="17" fill="#f0525a"/>
<rect x="504.5" y="195.5" width="6" height="2" fill="none" stroke="#f0525a" stroke-width="1"/>
<rect x="516" y="193" width="1" height="2" fill="#f0525a"/>
<rect x="516" y="198" width="1" height="8" fill="#f0525a"/>
<rect x="513.5" y="195.5" width="6" height="2" fill="none" stroke="#f0525a" stroke-width="1"/>
<rect x="525" y="196" width="1" height="22" fill="#08ece6"/>
<rect x="522" y="196" width="7" height="2" fill="#08ece6"/>
<rect x="534" y="183" width="1" height="3" fill="#f0525a"/>
<rect x="534" y="198" width="1" height="7" fill="#f0525a"/>
<rect x="531.5" y="186.5" width="6" height="11" fill="none" stroke="#f0525a" stroke-width="1"/>
<rect x="543" y="186" width="1" height="19" fill="#08ece6"/>
<rect x="540" y="186" width="7" height="9" fill="#08ece6"/>
<rect x="552" y="177" width="1" height="11" fill="#f0525a"/>
<rect x="549.5" y="188.5" width="6" height="7" fill="none" stroke="#f0525a" stroke-width="1"/>
<rect x="561" y="187" width="1" height="30" fill="#08ece6"/>
<rect x="558" y="190" width="7" height="6" fill="#08ece6"/>
<rect x="570" y="190" width="1" height="20" fill="#08ece6"/>
<rect x="567" y="190" width="7" height="17" fill="#08ece6"/>
<rect x="579" y="201" width="1" height="92" fill="#08ece6"/>
<rect x="576" y="206" width="7" height="81" fill="#08ece6"/>
<rect x="588" y="278" width="1" height="61" fill="#08ece6"/>
<rect x="585" y="283" width="7" height="51" fill="#08ece6"/>
<rect x="597" y="326" width="1" height="49" fill="#08ece6"/>
<rect x="594" y="333" width="7" height="23" fill="#08ece6"/>
<rect x="606" y="345" width="1" height="41" fill="#08ece6"/>
<rect x="603" y="355" width="7" height="18" fill="#08ece6"/>
<rect x="615" y="353" width="1" height="11" fill="#f0525a"/>
<rect x="615" y="369" width="1" height="9" fill="#f0525a"/>
<rect x="612.5" y="364.5" width="6" height="4" fill="none" stroke="#f0525a" stroke-width="1"/>
<rect x="624" y="347" width="1" height="4" fill="#f0525a"/>
<rect x="624" y="367" width="1" height="7" fill="#f0525a"/>
<rect x="621.5" y="351.5" width="6" height="15" fill="none" stroke="#f0525a" stroke-width="1"/>
<rect x="633" y="349" width="1" height="18" fill="#08ece6"/>
<rect x="630" y="351" width="7" height="14" fill="#08ece6"/>
<rect x="642" y="357" width="1" height="14" fill="#08ece6"/>
<rect x="639" y="366" width="7" height="5" fill="#08ece6"/>
<rect x="651" y="356" width="1" height="3" fill="#f0525a"/>
<rect x="651" y="369" width="1" height="4" fill="#f0525a"/>
<rect x="648.5" y="359.5" width="6" height="9" fill="none" stroke="#f0525a" stroke-width="1"/>
<rect x="660" y="357" width="1" height="14" fill="#08ece6"/>
<rect x="657" y="359" width="7" height="3" fill="#08ece6"/>
<rect x="669" y="327" width="1" height="32" fill="#f0525a"/>
<rect x="669" y="362" width="1" height="5" fill="#f0525a"/>
<rect x="666.5" y="359.5" width="6" height="2" fill="none" stroke="#f0525a" stroke-width="1"/>
<rect x="678" y="340" width="1" height="2" fill="#f0525a"/>
<rect x="675.5" y="342.5" width="6" height="18" fill="none" stroke="#f0525a" stroke-width="1"/>
<rect x="687" y="323" width="1" height="31" fill="#08ece6"/>
<rect x="684" y="343" width="7" height="7" fill="#08ece6"/>
<rect x="696" y="329" width="1" height="9" fill="#f0525a"/>
<rect x="696" y="350" width="1" height="4" fill="#f0525a"/>
<rect x="693.5" y="338.5" width="6" height="11" fill="none" stroke="#f0525a" stroke-width="1"/>
<rect x="705" y="335" width="1" height="116" fill="#08ece6"/>
<rect x="702" y="338" width="7" height="83" fill="#08ece6"/>
<rect x="714" y="343" width="1" height="19" fill="#f0525a"/>
<rect x="714" y="421" width="1" height="9" fill="#f0525a"/>
<rect x="711.5" y="362.5" width="6" height="58" fill="none" stroke="#f0525a" stroke-width="1"/>
<rect x="723" y="325" width="1" height="32" fill="#f0525a"/>
<rect x="723" y="386" width="1" height="13" fill="#f0525a"/>
<rect x="720.5" y="357.5" width="6" height="28" fill="none" stroke="#f0525a" stroke-width="1"/>
<rect x="732" y="331" width="1" height="15" fill="#f0525a"/>
<rect x="732" y="358" width="1" height="4" fill="#f0525a"/>
<rect x="729.5" y="346.5" width="6" height="11" fill="none" stroke="#f0525a" stroke-width="1"/>
<rect x="741" y="336" width="1" height="46" fill="#08ece6"/>
<rect x="738" y="346" width="7" height="29" fill="#08ece6"/>
<rect x="750" y="379" width="1" height="70" fill="#08ece6"/>
<rect x="747" y="379" width="7" height="59" fill="#08ece6"/>
<rect x="759" y="396" width="1" height="28" fill="#f0525a"/>
<rect x="759" y="438" width="1" height="2" fill="#f0525a"/>
<rect x="756.5" y="424.5" width="6" height="13" fill="none" stroke="#f0525a" stroke-width="1"/>
<rect x="768" y="336" width="1" height="45" fill="#f0525a"/>
<rect x="768" y="427" width="1" height="5" fill="#f0525a"/>
<rect x="765.5" y="381.5" width="6" height="45" fill="none" stroke="#f0525a" stroke-width="1"/>
<rect x="777" y="338" width="1" height="19" fill="#f0525a"/>
<rect x="777" y="380" width="1" height="6" fill="#f0525a"/>
<rect x="774.5" y="357.5" width="6" height="22" fill="none" stroke="#f0525a" stroke-width="1"/>
<rect x="786" y="353" width="1" height="27" fill="#08ece6"/>
<rect x="783" y="355" width="7" height="3" fill="#08ece6"/>
<rect x="795" y="342" width="1" height="31" fill="#08ece6"/>
<rect x="792" y="355" width="7" height="7" fill="#08ece6"/>
<rect x="804" y="349" width="1" height="18" fill="#fff"/>
<rect x="801" y="362" width="7" height="1" fill="#fff"/>
<rect x="813" y="336" width="1" height="17" fill="#f0525a"/>
<rect x="813" y="365" width="1" height="39" fill="#f0525a"/>
<rect x="810.5" y="353.5" width="6" height="11" fill="none" stroke="#f0525a" stroke-width="1"/>
<rect x="822" y="303" width="1" height="4" fill="#f0525a"/>
<rect x="822" y="352" width="1" height="2" fill="#f0525a"/>
<rect x="819.5" y="307.5" width="6" height="44" fill="none" stroke="#f0525a" stroke-width="1"/>
<rect x="831" y="305" width="1" height="49" fill="#08ece6"/>
<rect x="828" y="305" width="7" height="36" fill="#08ece6"/>
<rect x="840" y="333" width="1" height="30" fill="#08ece6"/>
<rect x="837" y="344" width="7" height="3" fill="#08ece6"/>
<rect x="849" y="346" width="1" height="27" fill="#08ece6"/>
<rect x="846" y="346" width="7" height="21" fill="#08ece6"/>
<rect x="858" y="348" width="1" height="9" fill="#f0525a"/>
<rect x="858" y="366" width="1" height="2" fill="#f0525a"/>
<rect x="855.5" y="357.5" width="6" height="8" fill="none" stroke="#f0525a" stroke-width="1"/>
<rect x="867" y="349" width="1" height="65" fill="#08ece6"/>
<rect x="864" y="359" width="7" height="29" fill="#08ece6"/>
<rect x="876" y="382" width="1" height="3" fill="#f0525a"/>
<rect x="876" y="388" width="1" height="13" fill="#f0525a"/>
<rect x="873.5" y="385.5" width="6" height="2" fill="none" stroke="#f0525a" stroke-width="1"/>
<rect x="885" y="374" width="1" height="9" fill="#f0525a"/>
<rect x="885" y="388" width="1" height="13" fill="#f0525a"/>
<rect x="882.5" y="383.5" width="6" height="4" fill="none" stroke="#f0525a" stroke-width="1"/>
<rect x="894" y="383" width="1" height="40" fill="#08ece6"/>
<rect x="891" y="383" width="7" height="25" fill="#08ece6"/>
<rect x="903" y="379" width="1" height="8" fill="#f0525a"/>
<rect x="903" y="408" width="1" height="19" fill="#f0525a"/>
<rect x="900.5" y="387.5" width="6" height="20" fill="none" stroke="#f0525a" stroke-width="1"/>
<rect x="912" y="374" width="1" height="9" fill="#f0525a"/>
<rect x="912" y="389" width="1" height="30" fill="#f0525a"/>
<rect x="909.5" y="383.5" width="6" height="5" fill="none" stroke="#f0525a" stroke-width="1"/>
<rect x="921" y="377" width="1" height="25" fill="#08ece6"/>
<rect x="918" y="383" width="7" height="16" fill="#08ece6"/>
<rect x="930" y="375" width="1" height="12" fill="#f0525a"/>
<rect x="930" y="395" width="1" height="3" fill="#f0525a"/>
<rect x="927.5" y="387.5" width="6" height="7" fill="none" stroke="#f0525a" stroke-width="1"/>
<rect x="939" y="388" width="1" height="22" fill="#08ece6"/>
<rect x="936" y="388" width="7" height="13" fill="#08ece6"/>
<rect x="948" y="357" width="1" height="26" fill="#f0525a"/>
<rect x="948" y="401" width="1" height="50" fill="#f0525a"/>
<rect x="945.5" y="383.5" width="6" height="17" fill="none" stroke="#f0525a" stroke-width="1"/>
<rect x="957" y="362" width="1" height="10" fill="#f0525a"/>
<rect x="957" y="382" width="1" height="19" fill="#f0525a"/>
<rect x="954.5" y="372.5" width="6" height="9" fill="none" stroke="#f0525a" stroke-width="1"/>
<rect x="966" y="338" width="1" height="23" fill="#f0525a"/>
<rect x="966" y="369" width="1" height="1" fill="#f0525a"/>
<rect x="963.5" y="361.5" width="6" height="7" fill="none" stroke="#f0525a" stroke-width="1"/>
<rect x="975" y="331" width="1" height="5" fill="#f0525a"/>
<rect x="972.5" y="336.5" width="6" height="25" fill="none" stroke="#f0525a" stroke-width="1"/>
<rect x="984" y="320" width="1" height="25" fill="#08ece6"/>
<rect x="981" y="336" width="7" height="5" fill="#08ece6"/>
<rect x="993" y="336" width="1" height="40" fill="#08ece6"/>
<rect x="990" y="340" width="7" height="18" fill="#08ece6"/>
<rect x="1002" y="335" width="1" height="13" fill="#f0525a"/>
<rect x="1002" y="354" width="1" height="6" fill="#f0525a"/>
<rect x="999.5" y="348.5" width="6" height="5" fill="none" stroke="#f0525a" stroke-width="1"/>
<rect x="1011" y="336" width="1" height="22" fill="#08ece6"/>
<rect x="1008" y="348" width="7" height="8" fill="#08ece6"/>
<rect x="1020" y="333" width="1" height="9" fill="#f0525a"/>
<rect x="1017.5" y="342.5" width="6" height="13" fill="none" stroke="#f0525a" stroke-width="1"/>
<rect x="1029" y="344" width="1" height="14" fill="#08ece6"/>
<rect x="1026" y="344" width="7" height="8" fill="#08ece6"/>
<rect x="1038" y="340" width="1" height="6" fill="#f0525a"/>
<rect x="1038" y="352" width="1" height="10" fill="#f0525a"/>
<rect x="1035.5" y="346.5" width="6" height="5" fill="none" stroke="#f0525a" stroke-width="1"/>
<rect x="1047" y="338" width="1" height="96" fill="#08ece6"/>
<rect x="1044" y="342" width="7" height="68" fill="#08ece6"/>
<rect x="1056" y="396" width="1" height="9" fill="#f0525a"/>
<rect x="1056" y="412" width="1" height="13" fill="#f0525a"/>
<rect x="1053.5" y="405.5" width="6" height="6" fill="none" stroke="#f0525a" stroke-width="1"/>
<rect x="1065" y="401" width="1" height="48" fill="#08ece6"/>
<rect x="1062" y="407" width="7" height="12" fill="#08ece6"/>
<rect x="1074" y="376" width="1" height="62" fill="#fff"/>
<rect x="1071" y="420" width="7" height="1" fill="#fff"/>
<rect x="1083" y="390" width="1" height="17" fill="#f0525a"/>
<rect x="1083" y="421" width="1" height="6" fill="#f0525a"/>
<rect x="1080.5" y="407.5" width="6" height="13" fill="none" stroke="#f0525a" stroke-width="1"/>
<rect x="1092" y="394" width="1" height="25" fill="#08ece6"/>
<rect x="1089" y="407" width="7" height="8" fill="#08ece6"/>
<rect x="1101" y="403" width="1" height="6" fill="#f0525a"/>
<rect x="1101" y="419" width="1" height="11" fill="#f0525a"/>
<rect x="1098.5" y="409.5" width="6" height="9" fill="none" stroke="#f0525a" stroke-width="1"/>
<rect x="1110" y="403" width="1" height="38" fill="#08ece6"/>
<rect x="1107" y="407" width="7" height="23" fill="#08ece6"/>
<rect x="1128" y="394" width="1" height="20" fill="#f0525a"/>
<rect x="1128" y="451" width="1" height="2" fill="#f0525a"/>
<rect x="1125.5" y="414.5" width="6" height="36" fill="none" stroke="#f0525a" stroke-width="1"/>
<rect x="1137" y="414" width="1" height="48" fill="#08ece6"/>
<rect x="1134" y="414" width="7" height="18" fill="#08ece6"/>
<rect x="1119" y="394" width="1" height="140" fill="#08ece6"/>
<rect x="1116" y="431" width="7" height="42" fill="#08ece6"/>
<rect x="1146" y="431" width="1" height="85" fill="#08ece6"/>
<rect x="1143" y="431" width="7" height="74" fill="#08ece6"/>
<rect x="1155" y="502" width="1" height="58" fill="#08ece6"/>
<rect x="1152" y="502" width="7" height="43" fill="#08ece6"/>
<rect x="1164" y="520" width="1" height="40" fill="#08ece6"/>
<rect x="1161" y="543" width="7" height="2" fill="#08ece6"/>
<rect x="1173" y="533" width="1" height="59" fill="#08ece6"/>
<rect x="1170" y="546" width="7" height="42" fill="#08ece6"/>
<rect x="1182" y="557" width="1" height="13" fill="#f0525a"/>
<rect x="1182" y="584" width="1" height="10" fill="#f0525a"/>
<rect x="1179.5" y="570.5" width="6" height="13" fill="none" stroke="#f0525a" stroke-width="1"/>
<rect x="1191" y="559" width="1" height="10" fill="#f0525a"/>
<rect x="1191" y="571" width="1" height="34" fill="#f0525a"/>
<rect x="1188" y="569" width="7" height="2" fill="#f0525a"/>
<rect x="1200" y="543" width="1" height="9" fill="#f0525a"/>
<rect x="1197.5" y="552.5" width="6" height="18" fill="none" stroke="#f0525a" stroke-width="1"/>
<rect x="1209" y="544" width="1" height="2" fill="#f0525a"/>
<rect x="1209" y="553" width="1" height="9" fill="#f0525a"/>
<rect x="1206.5" y="546.5" width="6" height="6" fill="none" stroke="#f0525a" stroke-width="1"/>
<rect x="1218" y="544" width="1" height="33" fill="#08ece6"/>
<rect x="1215" y="546" width="7" height="27" fill="#08ece6"/>
<rect x="1227" y="557" width="1" height="12" fill="#f0525a"/>
<rect x="1227" y="573" width="1" height="18" fill="#f0525a"/>
<rect x="1224.5" y="569.5" width="6" height="3" fill="none" stroke="#f0525a" stroke-width="1"/>
<rect x="1236" y="546" width="1" height="6" fill="#f0525a"/>
<rect x="1236" y="570" width="1" height="1" fill="#f0525a"/>
<rect x="1233.5" y="552.5" width="6" height="17" fill="none" stroke="#f0525a" stroke-width="1"/>
<rect x="1245" y="546" width="1" height="2" fill="#f0525a"/>
<rect x="1245" y="557" width="1" height="7" fill="#f0525a"/>
<rect x="1242.5" y="548.5" width="6" height="8" fill="none" stroke="#f0525a" stroke-width="1"/>
<rect x="1254" y="524" width="1" height="9" fill="#f0525a"/>
<rect x="1254" y="551" width="1" height="2" fill="#f0525a"/>
<rect x="1251.5" y="533.5" width="6" height="17" fill="none" stroke="#f0525a" stroke-width="1"/>
<rect x="1263" y="534" width="1" height="19" fill="#f0525a"/>
<rect x="1260.5" y="489.5" width="6" height="44" fill="none" stroke="#f0525a" stroke-width="1"/>
<rect x="1272" y="487" width="1" height="25" fill="#08ece6"/>
<rect x="1269" y="491" width="7" height="15" fill="#08ece6"/>
<rect x="1281" y="491" width="1" height="38" fill="#08ece6"/>
<rect x="1278" y="502" width="7" height="12" fill="#08ece6"/>
<rect x="1290" y="494" width="1" height="13" fill="#f0525a"/>
<rect x="1287.5" y="507.5" width="6" height="6" fill="none" stroke="#f0525a" stroke-width="1"/>
<rect x="1299" y="502" width="1" height="38" fill="#08ece6"/>
<rect x="1296" y="509" width="7" height="20" fill="#08ece6"/>
<rect x="1308" y="524" width="1" height="20" fill="#08ece6"/>
<rect x="1305" y="529" width="7" height="7" fill="#08ece6"/>
<rect x="1317" y="535" width="1" height="29" fill="#08ece6"/>
<rect x="1314" y="535" width="7" height="9" fill="#08ece6"/>
<rect x="1326" y="544" width="1" height="7" fill="#f0525a"/>
<rect x="1323.5" y="533.5" width="6" height="10" fill="none" stroke="#f0525a" stroke-width="1"/>
<rect x="1335" y="528" width="1" height="19" fill="#fff"/>
<rect x="1332" y="534" width="7" height="1" fill="#fff"/>
<rect x="1344" y="524" width="1" height="4" fill="#f0525a"/>
<rect x="1344" y="540" width="1" height="9" fill="#f0525a"/>
<rect x="1341.5" y="528.5" width="6" height="11" fill="none" stroke="#f0525a" stroke-width="1"/>
<rect x="1353" y="506" width="1" height="12" fill="#f0525a"/>
<rect x="1353" y="529" width="1" height="2" fill="#f0525a"/>
<rect x="1350.5" y="518.5" width="6" height="10" fill="none" stroke="#f0525a" stroke-width="1"/>
<rect x="1362" y="515" width="1" height="38" fill="#08ece6"/>
<rect x="1359" y="518" width="7" height="27" fill="#08ece6"/>
<rect x="1371" y="520" width="1" height="10" fill="#f0525a"/>
<rect x="1371" y="545" width="1" height="13" fill="#f0525a"/>
<rect x="1368.5" y="530.5" width="6" height="14" fill="none" stroke="#f0525a" stroke-width="1"/>
<rect x="1380" y="518" width="1" height="8" fill="#f0525a"/>
<rect x="1380" y="532" width="1" height="6" fill="#f0525a"/>
<rect x="1377.5" y="526.5" width="6" height="5" fill="none" stroke="#f0525a" stroke-width="1"/>
<rect x="1389" y="507" width="1" height="11" fill="#f0525a"/>
<rect x="1389" y="527" width="1" height="2" fill="#f0525a"/>
<rect x="1386.5" y="518.5" width="6" height="8" fill="none" stroke="#f0525a" stroke-width="1"/>
<rect x="1398" y="496" width="1" height="15" fill="#f0525a"/>
<rect x="1398" y="516" width="1" height="5" fill="#f0525a"/>
<rect x="1395.5" y="511.5" width="6" height="4" fill="none" stroke="#f0525a" stroke-width="1"/>
<rect x="1407" y="511" width="1" height="33" fill="#08ece6"/>
<rect x="1404" y="511" width="7" height="16" fill="#08ece6"/>
<rect x="1416" y="521" width="1" height="28" fill="#08ece6"/>
<rect x="1413" y="524" width="7" height="8" fill="#08ece6"/>
<rect x="1425" y="525" width="1" height="18" fill="#08ece6"/>
<rect x="1422" y="531" width="7" height="5" fill="#08ece6"/>
<rect x="1434" y="535" width="1" height="25" fill="#08ece6"/>
<rect x="1431" y="537" width="7" height="16" fill="#08ece6"/>
<rect x="1443" y="544" width="1" height="6" fill="#f0525a"/>
<rect x="1443" y="553" width="1" height="18" fill="#f0525a"/>
<rect x="1440.5" y="550.5" width="6" height="2" fill="none" stroke="#f0525a" stroke-width="1"/>
<rect x="1452" y="516" width="1" height="23" fill="#f0525a"/>
<rect x="1452" y="551" width="1" height="4" fill="#f0525a"/>
<rect x="1449.5" y="539.5" width="6" height="11" fill="none" stroke="#f0525a" stroke-width="1"/>
<rect x="1461" y="528" width="1" height="3" fill="#f0525a"/>
<rect x="1461" y="542" width="1" height="11" fill="#f0525a"/>
<rect x="1458.5" y="531.5" width="6" height="10" fill="none" stroke="#f0525a" stroke-width="1"/>
<rect x="1470" y="530" width="1" height="15" fill="#08ece6"/>
<rect x="1467" y="530" width="7" height="12" fill="#08ece6"/>
<rect x="1479" y="538" width="1" height="35" fill="#08ece6"/>
<rect x="1476" y="543" width="7" height="14" fill="#08ece6"/>
<rect x="1488" y="533" width="1" height="17" fill="#f0525a"/>
<rect x="1488" y="557" width="1" height="1" fill="#f0525a"/>
<rect x="1485.5" y="550.5" width="6" height="6" fill="none" stroke="#f0525a" stroke-width="1"/>
<rect x="1497" y="543" width="1" height="17" fill="#08ece6"/>
<rect x="1494" y="546" width="7" height="12" fill="#08ece6"/>
<rect x="1506" y="531" width="1" height="15" fill="#f0525a"/>
<rect x="1503.5" y="546.5" width="6" height="11" fill="none" stroke="#f0525a" stroke-width="1"/>
<rect x="1515" y="526" width="1" height="13" fill="#f0525a"/>
<rect x="1515" y="545" width="1" height="1" fill="#f0525a"/>
<rect x="1512.5" y="539.5" width="6" height="5" fill="none" stroke="#f0525a" stroke-width="1"/>
<rect x="1524" y="514" width="1" height="12" fill="#f0525a"/>
<rect x="1524" y="539" width="1" height="3" fill="#f0525a"/>
<rect x="1521.5" y="526.5" width="6" height="12" fill="none" stroke="#f0525a" stroke-width="1"/>
<rect x="1533" y="524" width="1" height="17" fill="#f0525a"/>
<rect x="1533" y="570" width="1" height="76" fill="#f0525a"/>
<rect x="1530.5" y="541.5" width="6" height="28" fill="none" stroke="#f0525a" stroke-width="1"/>
<rect x="1542" y="409" width="1" height="100" fill="#f0525a"/>
<rect x="1539.5" y="509.5" width="6" height="31" fill="none" stroke="#f0525a" stroke-width="1"/>
<rect x="1551" y="511" width="1" height="57" fill="#08ece6"/>
<rect x="1548" y="513" width="7" height="34" fill="#08ece6"/>
<rect x="1560" y="548" width="1" height="51" fill="#08ece6"/>
<rect x="1557" y="552" width="7" height="10" fill="#08ece6"/>
<rect x="1569" y="556" width="1" height="28" fill="#08ece6"/>
<rect x="1566" y="563" width="7" height="18" fill="#08ece6"/>
<rect x="1578" y="574" width="1" height="70" fill="#08ece6"/>
<rect x="1575" y="580" width="7" height="58" fill="#08ece6"/>
<rect x="1587" y="604" width="1" height="4" fill="#f0525a"/>
<rect x="1587" y="637" width="1" height="22" fill="#f0525a"/>
<rect x="1584.5" y="608.5" width="6" height="28" fill="none" stroke="#f0525a" stroke-width="1"/>
<rect x="1596" y="583" width="1" height="39" fill="#08ece6"/>
<rect x="1593" y="608" width="7" height="10" fill="#08ece6"/>
<rect x="1605" y="598" width="1" height="24" fill="#08ece6"/>
<rect x="1602" y="615" width="7" height="7" fill="#08ece6"/>
<rect x="1614" y="598" width="1" height="10" fill="#f0525a"/>
<rect x="1614" y="619" width="1" height="4" fill="#f0525a"/>
<rect x="1611.5" y="608.5" width="6" height="10" fill="none" stroke="#f0525a" stroke-width="1"/>
<rect x="1623" y="578" width="1" height="5" fill="#f0525a"/>
<rect x="1620.5" y="583.5" width="6" height="23" fill="none" stroke="#f0525a" stroke-width="1"/>
<rect x="1632" y="583" width="1" height="27" fill="#08ece6"/>
<rect x="1629" y="583" width="7" height="24" fill="#08ece6"/>
<rect x="1641" y="596" width="1" height="22" fill="#08ece6"/>
<rect x="1638" y="602" width="7" height="14" fill="#08ece6"/>
<rect x="1650" y="608" width="1" height="5" fill="#f0525a"/>
<rect x="1650" y="618" width="1" height="5" fill="#f0525a"/>
<rect x="1647.5" y="613.5" width="6" height="4" fill="none" stroke="#f0525a" stroke-width="1"/>
<rect x="1659" y="598" width="1" height="6" fill="#f0525a"/>
<rect x="1659" y="614" width="1" height="2" fill="#f0525a"/>
<rect x="1656.5" y="604.5" width="6" height="9" fill="none" stroke="#f0525a" stroke-width="1"/>
<rect x="1668" y="596" width="1" height="27" fill="#08ece6"/>
<rect x="1665" y="602" width="7" height="18" fill="#08ece6"/>
<rect x="1677" y="615" width="1" height="29" fill="#08ece6"/>
<rect x="1674" y="619" width="7" height="14" fill="#08ece6"/>
<rect x="1686" y="617" width="1" height="7" fill="#f0525a"/>
<rect x="1686" y="633" width="1" height="2" fill="#f0525a"/>
<rect x="1683.5" y="624.5" width="6" height="8" fill="none" stroke="#f0525a" stroke-width="1"/>
<rect x="1695" y="621" width="1" height="19" fill="#08ece6"/>
<rect x="1692" y="625" width="7" height="6" fill="#08ece6"/>
<rect x="1704" y="626" width="1" height="64" fill="#08ece6"/>
<rect x="1701" y="632" width="7" height="51" fill="#08ece6"/>
<rect x="1713" y="665" width="1" height="29" fill="#fff"/>
<rect x="1710" y="682" width="7" height="1" fill="#fff"/>
<rect x="1722" y="684" width="1" height="27" fill="#08ece6"/>
<rect x="1719" y="684" width="7" height="14" fill="#08ece6"/>
<rect x="1731" y="673" width="1" height="7" fill="#f0525a"/>
<rect x="1731" y="698" width="1" height="3" fill="#f0525a"/>
<rect x="1728.5" y="680.5" width="6" height="17" fill="none" stroke="#f0525a" stroke-width="1"/>
<rect x="1740" y="660" width="1" height="9" fill="#f0525a"/>
<rect x="1740" y="681" width="1" height="4" fill="#f0525a"/>
<rect x="1737.5" y="669.5" width="6" height="11" fill="none" stroke="#f0525a" stroke-width="1"/>
<rect x="1749" y="647" width="1" height="18" fill="#f0525a"/>
<rect x="1749" y="670" width="1" height="3" fill="#f0525a"/>
<rect x="1746.5" y="665.5" width="6" height="4" fill="none" stroke="#f0525a" stroke-width="1"/>
<rect x="1758" y="663" width="1" height="29" fill="#08ece6"/>
<rect x="1755" y="663" width="7" height="22" fill="#08ece6"/>
<rect x="1767" y="676" width="1" height="25" fill="#08ece6"/>
<rect x="1764" y="684" width="7" height="8" fill="#08ece6"/>
<rect x="1776" y="684" width="1" height="66" fill="#08ece6"/>
<rect x="1773" y="693" width="7" height="53" fill="#08ece6"/>
<rect x="1785" y="708" width="1" height="15" fill="#f0525a"/>
<rect x="1785" y="744" width="1" height="10" fill="#f0525a"/>
<rect x="1782.5" y="723.5" width="6" height="20" fill="none" stroke="#f0525a" stroke-width="1"/>
<rect x="1794" y="700" width="1" height="13" fill="#f0525a"/>
<rect x="1794" y="727" width="1" height="4" fill="#f0525a"/>
<rect x="1791.5" y="713.5" width="6" height="13" fill="none" stroke="#f0525a" stroke-width="1"/>
<rect x="1803" y="710" width="1" height="19" fill="#08ece6"/>
<rect x="1800" y="715" width="7" height="5" fill="#08ece6"/>
<rect x="1812" y="684" width="1" height="11" fill="#f0525a"/>
<rect x="1809.5" y="695.5" width="6" height="23" fill="none" stroke="#f0525a" stroke-width="1"/>
<rect x="1821" y="671" width="1" height="32" fill="#08ece6"/>
<rect x="1818" y="698" width="7" height="3" fill="#08ece6"/>
<rect x="1830" y="691" width="1" height="23" fill="#08ece6"/>
<rect x="1827" y="700" width="7" height="7" fill="#08ece6"/>
<rect x="1839" y="678" width="1" height="11" fill="#f0525a"/>
<rect x="1836.5" y="689.5" width="6" height="17" fill="none" stroke="#f0525a" stroke-width="1"/>
</g>
<polyline points="0.0,854.5 35.0,855.3 40.0,856.7 48.3,864.0 53.3,865.3 66.7,867.0 78.3,870.3 93.3,874.5 100.0,873.3 123.3,874.5 130.0,876.2 141.7,878.3 146.7,880.3 160.0,881.7 175.0,882.8 181.7,887.0 188.3,893.7 192.5,897.0 200.0,894.7 210.0,894.7 219.5,900.7 228.3,896.3 237.5,899.5 246.7,900.3 255.0,896.2 260.0,901.2 265.0,907.8 273.3,909.5 283.3,909.5 291.7,911.7 298.3,918.7 305.0,932.0 310.0,945.3 315.0,947.8 321.0,949.5 326.0,947.3 341.0,947.3 346.0,948.3 357.7,947.3 374.3,948.3 382.7,947.3 399.3,948.3 406.0,952.0 416.0,956.2 422.7,957.0 437.7,956.7 444.3,958.3 457.7,957.3 474.3,957.0 481.0,955.3 489.3,956.7 499.3,955.7 506.0,956.7 519.3,956.7 526.0,957.8 532.7,959.8 541.0,959.8 547.7,961.2 566.0,960.7 574.3,960.7 581.0,961.2 589.3,947.0 597.7,927.0 602.7,908.7 607.7,890.3 616.0,884.5 624.3,884.5 631.0,879.5 632.0,878.7 642.0,872.8 650.3,868.3 660.3,868.3 668.7,871.2 678.7,877.8 688.7,882.0 696.2,885.7 705.3,874.5 710.3,887.0 715.3,903.7 722.0,917.0 727.0,922.0 732.0,924.5 741.2,924.5 747.0,915.3 752.0,909.5 758.7,908.7 765.3,913.7 772.0,917.8 777.0,919.5 785.3,918.3 793.7,919.5 803.7,917.3 813.7,918.7 818.7,923.7 823.7,928.7 832.0,932.0 837.0,933.7 848.7,933.7 857.0,930.7 868.7,930.3 882.0,927.0 898.7,920.3 912.0,918.7 920.3,920.3 932.0,920.3 940.3,919.0 947.0,915.0 948.0,913.3 956.3,915.3 964.7,914.5 974.7,912.0 984.7,902.8 998.0,900.3 1014.7,897.8 1026.3,896.5 1041.3,896.5 1048.0,897.3 1054.7,890.3 1059.7,880.3 1064.7,869.5 1073.0,864.5 1081.3,865.0 1098.0,866.5 1111.3,866.5 1116.3,875.3 1123.0,882.0 1129.7,885.3 1137.2,887.3 1141.3,882.8 1146.3,877.0 1151.3,865.3 1156.3,854.5 1164.7,850.3 1173.0,835.3 1181.3,831.2 1191.3,824.5 1201.3,829.5 1214.7,828.3 1229.7,828.3 1234.7,830.0 1246.3,830.3 1253.0,837.0 1259.7,843.7 1263.0,846.2 1264.0,848.3 1272.3,852.0 1280.7,856.7 1289.0,857.5 1297.3,859.5 1308.2,859.5 1317.3,852.5 1322.3,851.5 1335.7,851.2 1344.0,850.3 1352.3,852.5 1360.7,851.7 1370.7,850.3 1380.7,851.5 1392.3,849.8 1402.3,848.3 1414.0,846.2 1425.7,845.0 1437.3,840.0 1444.0,838.7 1452.3,838.3 1460.7,835.3 1472.3,835.0 1479.0,833.3 1490.7,833.3 1499.0,834.5 1505.7,837.8 1512.3,843.7 1516.5,848.7 1519.0,860.3 1521.5,870.3 1524.0,877.0 1530.7,883.7 1537.3,890.3 1544.0,894.7 1552.3,892.0 1560.7,888.7 1569.0,885.7 1574.0,877.0 1579.0,868.3 1581.0,867.8 1587.7,863.7 1597.7,862.8 1607.7,862.0 1613.5,860.0 1623.5,865.3 1636.0,865.3 1647.7,863.7 1664.3,862.8 1676.0,859.8 1687.7,859.0 1695.2,856.7 1701.0,848.7 1707.7,842.0 1714.3,835.3 1722.7,823.7 1731.0,819.5 1739.3,821.7 1749.3,826.5 1757.7,827.3 1766.8,825.7 1772.7,815.3 1776.8,807.5 1784.3,804.5 1799.3,802.5 1809.3,803.3 1821.0,804.5 1829.3,801.7 1839.0,801.3" fill="none" stroke="#ffffff" stroke-width="1" shape-rendering="crispEdges" />
<polyline points="0.0,1039.2 16.7,1039.7 31.7,1039.2 40.0,1041.7 48.3,1048.3 66.7,1050.8 78.3,1054.2 93.3,1058.3 100.0,1057.5 123.3,1058.0 130.0,1059.7 143.3,1061.7 150.0,1063.7 173.3,1065.0 180.0,1068.3 188.3,1075.0 193.3,1078.3 200.0,1076.3 210.0,1076.3 219.5,1082.5 228.3,1078.3 237.5,1081.2 246.7,1082.5 255.0,1078.3 260.0,1083.3 266.7,1090.0 283.3,1090.3 291.7,1092.5 300.0,1100.8 305.0,1111.7 310.0,1122.5" fill="none" stroke="#ffffff" stroke-width="1" shape-rendering="crispEdges" />
<polyline points="590.2,1122.5 597.7,1105.0 602.7,1085.0 606.0,1075.0 614.3,1066.7 624.3,1066.3 631.0,1062.5 632.0,1063.3 642.0,1056.3 650.3,1052.5 660.3,1052.5 668.7,1055.8 678.7,1060.8 688.7,1065.8 696.2,1068.3 705.3,1058.7 710.3,1070.0 715.3,1085.0 722.0,1098.3 727.0,1103.0 732.0,1104.7 741.2,1105.3 747.0,1095.8 751.2,1090.3 758.7,1089.5 765.3,1094.2 772.0,1098.0 777.0,1100.3 785.3,1098.7 793.7,1099.7 803.7,1098.3 813.7,1098.7 818.7,1103.3 823.7,1108.3 830.3,1112.0 838.7,1112.5 848.7,1113.7 857.0,1110.8 868.7,1110.0 882.0,1107.5 897.0,1100.5 907.0,1099.2 920.3,1100.5 938.7,1100.3 947.0,1095.8 948.0,1094.7 956.3,1096.3 964.7,1095.8 974.7,1093.3 984.7,1084.5 998.0,1082.0 1014.7,1079.7 1026.3,1078.3 1041.3,1078.3 1048.0,1079.2 1054.7,1072.5 1059.7,1063.3 1064.7,1053.3 1073.0,1048.7 1081.3,1049.2 1098.0,1050.3 1111.3,1050.3 1116.3,1057.5 1123.0,1064.2 1129.7,1068.0 1137.2,1070.3 1141.3,1066.7 1146.3,1060.8 1151.3,1050.0 1156.3,1039.2 1164.7,1035.0 1173.0,1021.7 1181.3,1016.7 1191.3,1011.3 1199.7,1015.5 1214.7,1015.0 1229.7,1015.0 1234.7,1016.3 1246.3,1016.7 1253.0,1022.5 1259.7,1029.2 1263.0,1031.7 1264.0,1032.5 1272.3,1036.3 1280.7,1040.5 1289.0,1042.5 1297.3,1044.5 1308.2,1044.5 1317.3,1037.5 1322.3,1036.7 1335.7,1036.2 1344.0,1035.3 1352.3,1037.5 1360.7,1036.7 1370.7,1035.3 1380.7,1036.3 1392.3,1035.0 1402.3,1034.2 1414.0,1031.7 1425.7,1030.3 1437.3,1025.8 1444.0,1024.7 1452.3,1024.5 1460.7,1021.7 1472.3,1021.2 1479.0,1019.5 1490.7,1019.5 1499.0,1020.5 1505.7,1023.3 1512.3,1028.3 1516.5,1033.3 1519.0,1043.3 1521.5,1053.3 1524.0,1060.0 1530.7,1066.7 1537.3,1073.3 1543.2,1077.5 1552.3,1074.2 1560.7,1070.8 1569.8,1067.5 1574.0,1060.0 1579.0,1051.7 1581.0,1050.8 1587.7,1047.5 1597.7,1046.3 1607.7,1046.3 1613.5,1045.0 1622.7,1049.5 1636.0,1049.2 1647.7,1047.5 1664.3,1046.7 1676.0,1043.7 1687.7,1043.0 1695.2,1040.3 1701.0,1033.3 1707.7,1026.7 1714.3,1020.8 1722.7,1010.3 1731.0,1006.3 1739.3,1008.3 1749.3,1013.0 1757.7,1013.3 1766.8,1012.0 1772.7,1001.7 1776.8,994.2 1784.3,992.5 1799.3,990.3 1809.3,991.3 1821.0,992.5 1829.3,989.7 1839.0,989.3" fill="none" stroke="#ffffff" stroke-width="1" shape-rendering="crispEdges" />
<polyline points="0.0,331.7 16.7,325.3 20.0,323.7 28.4,321.2 43.6,321.2 49.5,318.6 58.0,316.9 66.4,313.6 74.9,311.5 81.2,310.2 87.5,311.5 91.7,313.1 100.0,314.8 108.3,314.2 125.0,312.0 141.7,316.7 158.3,318.3 170.0,319.2 183.3,314.2 193.3,308.3 208.3,295.8 211.7,291.7 218.3,284.2 224.2,273.3 228.3,265.0 233.3,247.0 245.0,218.3 256.7,196.7 268.3,176.7 280.0,158.3 290.0,143.3 298.3,131.7 305.0,126.7 309.2,125.3 316.7,130.8 323.3,137.5 331.7,144.2 340.0,150.8 346.7,158.3 355.0,160.8 365.0,165.8 373.3,170.8 381.7,175.8 390.0,179.7 400.0,175.0 410.0,171.7 423.3,168.0 431.7,166.7 443.3,166.3 453.3,168.3 463.3,171.7 470.0,175.0 483.3,178.3 495.0,184.2 506.7,191.7 516.7,193.3 528.3,193.3 545.0,193.3 563.3,193.0 573.3,196.7 583.3,210.0 595.0,230.0 603.3,246.7 611.7,263.3 620.0,278.3 628.3,295.0 636.7,310.0 649.0,335.0 661.5,353.8 669.0,359.5 681.5,361.2 690.0,358.3 696.7,356.7 706.7,361.7 720.0,362.5 731.7,357.5 740.0,360.0 748.3,366.7 756.7,373.3 768.3,379.2 778.3,380.8 786.7,381.7 796.7,375.8 813.3,375.3 823.3,371.7 831.7,368.3 840.0,360.0 848.3,354.2 858.3,350.0 866.7,354.2 876.7,356.7 890.0,360.8 903.3,366.7 913.3,375.0 923.3,381.7 935.0,386.7 946.7,390.0 956.7,389.2 966.7,386.7 976.7,381.7 986.7,375.8 990.0,374.2 998.3,369.2 1015.0,360.8 1038.3,350.8 1048.3,354.2 1065.0,366.7 1081.7,380.0 1098.3,391.7 1113.3,405.0 1120.0,413.3 1128.3,419.2 1136.7,423.3 1148.3,436.7 1156.7,448.3 1165.0,460.0 1173.3,476.7 1181.7,490.0 1198.3,515.0 1210.0,525.0 1220.0,541.7 1228.3,555.0 1235.0,560.0 1245.0,562.0 1255.0,560.0 1263.3,551.7 1273.3,541.7 1283.3,536.3 1290.0,533.7 1300.0,532.5 1310.0,527.5 1323.3,523.3 1335.0,522.0 1345.0,520.8 1353.3,525.0 1363.3,528.3 1373.3,531.3 1383.3,531.7 1390.0,528.3 1406.7,527.0 1423.3,527.5 1440.0,531.7 1456.7,532.0 1473.3,534.2 1483.3,538.3 1493.3,544.2 1506.7,546.7 1516.7,545.8 1528.3,542.5 1540.0,540.8 1553.3,540.0 1563.3,543.3 1573.3,550.0 1586.7,558.3 1598.3,568.3 1610.0,578.3 1623.3,586.7 1627.7,593.3 1639.3,603.3 1652.7,610.0 1664.3,609.7 1674.3,611.7 1694.3,613.3 1706.0,624.2 1722.7,641.7 1739.3,652.5 1749.3,658.3 1761.0,665.8 1769.3,671.7 1781.0,688.3 1789.3,693.3 1797.7,696.7 1804.3,699.5 1814.3,699.2 1821.0,701.3 1831.0,705.0 1839.5,707.2" fill="none" stroke="#e22c30" stroke-width="1" shape-rendering="crispEdges" />
<polyline points="0.0,354.7 16.7,352.0 38.3,345.8 50.0,338.3 66.7,329.7 83.3,321.7 93.3,321.2 116.7,318.0 141.7,316.7 166.7,315.0 183.3,312.5 193.3,310.3 208.3,303.3 225.0,291.7 241.7,276.7 258.3,260.0 266.7,251.7 270.0,247.0 280.0,233.3 290.0,220.0 303.3,206.7 316.7,200.0 331.7,188.3 348.3,175.0 365.0,166.7 381.7,159.2 393.3,153.3 400.0,149.7 406.7,151.7 418.3,156.3 430.0,158.3 436.7,162.5 448.3,164.7 460.0,170.0 470.0,175.0 486.7,179.2 503.3,180.5 536.7,180.8 553.3,182.5 563.3,184.2 570.0,186.7 578.3,193.3 586.7,200.8 603.3,218.3 620.0,236.7 636.7,252.5 653.3,268.3 670.0,283.3 686.7,298.3 690.0,300.0 706.7,315.8 723.3,333.3 740.0,348.3 748.3,358.3 756.7,366.7 765.0,369.2 790.0,369.2 806.7,369.2 823.3,365.3 840.0,363.0 856.7,365.8 873.3,368.3 881.7,367.5 898.3,370.8 911.7,373.0 920.0,374.2 930.0,371.7 940.0,370.8 956.7,370.8 973.3,370.3 990.0,370.0 1006.7,372.0 1023.3,371.7 1040.0,369.7 1056.7,372.5 1073.3,375.3 1090.0,377.5 1106.7,380.0 1118.3,384.2 1131.7,386.3 1140.0,390.0 1148.3,396.7 1156.7,406.7 1173.3,428.3 1190.0,450.0 1206.7,468.3 1223.3,486.7 1231.7,491.7 1240.0,498.3 1256.7,510.0 1273.3,518.3 1290.0,526.7 1303.3,531.7 1315.0,538.3 1323.3,542.0 1340.0,541.3 1346.7,540.8 1356.7,536.7 1373.3,534.2 1390.0,530.8 1406.7,526.7 1428.3,524.7 1440.0,527.5 1456.7,530.8 1473.3,533.3 1490.0,535.3 1506.7,536.7 1523.3,536.7 1556.7,536.7 1566.7,540.0 1573.3,544.2 1590.0,553.3 1606.7,561.7 1623.3,565.0 1640.0,571.7 1656.7,578.3 1673.3,584.2 1687.7,590.0 1697.7,596.7 1714.3,610.0 1731.0,625.0 1747.7,634.2 1757.7,637.5 1764.3,640.0 1781.0,650.8 1797.7,660.0 1814.3,670.8 1831.0,680.0 1839.5,683.3" fill="none" stroke="#e9e95a" stroke-width="1" shape-rendering="crispEdges" />
<polyline points="0.0,258.3 16.7,267.5 33.3,277.5 50.0,285.8 66.7,293.7 83.3,300.0 100.0,307.5 116.7,315.8 141.7,326.7 166.7,333.3 176.7,334.5 193.3,332.0 216.7,321.7 233.3,310.8 250.0,298.3 258.3,290.0 275.0,278.3 291.7,268.3 305.0,261.7 316.2,257.5 337.5,252.5 348.3,247.0 373.3,235.0 398.3,224.2 423.3,214.2 436.7,210.8 450.0,203.3 465.0,198.3 470.0,198.3 486.7,191.7 503.3,185.0 520.0,180.0 536.7,175.8 553.3,171.7 561.7,170.5 573.3,170.8 586.7,175.0 603.3,187.5 620.0,199.2 636.7,210.0 653.3,221.7 670.0,230.0 686.7,238.3 703.3,246.7 720.0,255.0 736.7,265.0 753.3,278.3 770.0,288.3 786.2,295.8 796.7,300.0 813.3,307.5 831.7,315.0 856.7,326.7 873.3,335.8 890.0,345.0 906.7,354.2 923.3,362.5 935.0,367.5 948.3,370.0 965.0,370.8 990.0,369.2 1015.0,367.5 1040.0,367.5 1056.7,371.7 1073.3,372.5 1090.0,375.0 1106.7,376.3 1123.3,378.0 1140.0,380.8 1156.7,388.3 1173.3,397.5 1190.0,410.0 1206.7,418.3 1223.3,427.5 1240.0,436.7 1256.7,443.3 1273.3,448.3 1290.0,454.2 1306.2,459.2 1323.3,468.3 1348.3,481.7 1373.3,493.3 1390.0,500.0 1406.7,508.3 1423.3,515.0 1440.0,521.7 1456.7,526.7 1473.3,530.0 1490.0,535.8 1498.3,538.3 1506.7,538.7 1523.3,538.3 1540.0,537.5 1556.7,535.0 1573.3,537.5 1590.0,540.8 1606.7,545.0 1623.3,549.2 1640.0,553.3 1656.7,557.2 1673.3,560.8 1690.0,564.2 1706.2,568.3 1730.0,578.0 1752.7,590.0 1772.7,599.2 1797.7,611.7 1814.3,620.0 1831.0,627.5 1839.5,630.8" fill="none" stroke="#dc30dc" stroke-width="1" shape-rendering="crispEdges" />
<polyline points="0.0,235.8 50.0,238.8 100.0,243.8 150.0,248.0 193.0,251.0 225.0,250.0 245.0,247.0 273.3,242.5 306.7,238.0 340.0,234.2 373.3,230.8 406.7,227.5 440.0,226.3 465.0,225.0 470.0,224.5 503.3,222.8 536.7,221.2 561.7,220.5 586.7,221.3 620.0,224.2 653.3,226.7 686.7,229.5 720.0,232.0 753.3,235.0 786.2,237.5 799.0,240.0 824.0,246.2 849.0,252.5 874.0,258.8 899.0,265.0 900.0,264.7 950.0,275.8 1000.0,285.8 1050.0,293.7 1100.0,300.8 1150.0,306.7 1216.2,314.7 1223.3,315.0 1256.7,320.3 1290.0,325.8 1306.2,328.3 1350.0,335.5 1400.0,343.5 1440.0,350.5 1480.0,358.0 1530.0,373.3 1580.0,390.0 1630.0,405.8 1680.0,421.7 1730.0,440.0 1780.0,460.8 1796.2,467.5 1839.5,485.0" fill="none" stroke="#2ecc2e" stroke-width="1" shape-rendering="crispEdges" />
<g shape-rendering="crispEdges">
<rect x="0" y="495" width="1897" height="1" fill="#f4f4f4"/>
<rect x="193" y="50" width="1" height="726" fill="#f4f4f4"/>
<rect x="193" y="800" width="1" height="161" fill="#f4f4f4"/>
<rect x="193" y="985" width="1" height="137" fill="#f4f4f4"/>
</g>
<polygon points="1561.7,490.8 1568.4,472.5 1569.6,479.3 1720.1,362.5 1720.9,363.5 1574.6,485.6 1580.9,487.5" fill="#2d93f2"/>
<g font-family="Liberation Sans, sans-serif" style="white-space:pre">
<text x="-5" y="18" fill="#d2d2d2" font-size="17.5">5</text>
<text x="88.3" y="18" fill="#22c822" font-size="17.5" textLength="39.4" lengthAdjust="spacingAndGlyphs">8546</text>
<text x="150.8" y="18" fill="#22c822" font-size="17.5" textLength="25" lengthAdjust="spacingAndGlyphs">-79</text>
<text x="183.3" y="18" fill="#22c822" font-size="17.5" textLength="6.7" lengthAdjust="spacingAndGlyphs">/</text>
<text x="196.7" y="18" fill="#22c822" font-size="17.5" textLength="58.3" lengthAdjust="spacingAndGlyphs">-0.92%</text>
<text x="53.4" y="45" fill="#e9e94a" font-size="17.5" textLength="66.5" lengthAdjust="spacingAndGlyphs" text-anchor="end">144,0,0)</text>
<text x="85" y="45" fill="#ff2626" font-size="17.5" textLength="114.2" lengthAdjust="spacingAndGlyphs">MA10 8741.50</text>
<text x="212.6" y="45" fill="#e9e94a" font-size="17.5" textLength="114.3" lengthAdjust="spacingAndGlyphs">MA20 8739.85</text>
<text x="340.8" y="45" fill="#ee22ee" font-size="17.5" textLength="114.4" lengthAdjust="spacingAndGlyphs">MA40 8728.47</text>
<text x="469.2" y="45" fill="#25d025" font-size="17.5" textLength="124.1" lengthAdjust="spacingAndGlyphs">MA144 8772.65</text>
<text x="217.5" y="69.5" fill="#ff4664" font-size="17.5" textLength="38.5" lengthAdjust="spacingAndGlyphs">8867</text>
<text x="685" y="469" fill="#22e0e0" font-size="17.5" textLength="39" lengthAdjust="spacingAndGlyphs">8665</text>
<text x="1171.5" y="623" fill="#22e0e0" font-size="17.5" textLength="38.7" lengthAdjust="spacingAndGlyphs">8582</text>
<text x="1523" y="404" fill="#ff4664" font-size="17.5" textLength="38.7" lengthAdjust="spacingAndGlyphs">8687</text>
<text x="1765" y="772" fill="#22e0e0" font-size="17.5" textLength="39" lengthAdjust="spacingAndGlyphs">8502</text>
<text x="0.3" y="794.5" fill="#ececec" font-size="17.5" textLength="25.2" lengthAdjust="spacingAndGlyphs">49)</text>
<text x="39.3" y="794.5" fill="#ececec" font-size="17.5" textLength="122.3" lengthAdjust="spacingAndGlyphs">OPID 77748.00</text>
<text x="-4.8" y="980" fill="#ececec" font-size="17.5" textLength="74" lengthAdjust="spacingAndGlyphs">77748.00</text>
</g>
<polyline points="45.8,10.3 52.2,16.3 58.6,10.3" fill="none" stroke="#f0f0f0" stroke-width="1.5"/>
<polyline points="57.8,38.4 64.2,44.3 70.6,38.4" fill="none" stroke="#e9e94a" stroke-width="1.5"/>
<g fill="none" stroke="#cacaca" stroke-width="1.05" stroke-linecap="round">
<path d="M15.8,4.6 Q13.5,9.5 8.4,12.6 M16.6,5 Q18.5,9.5 22.8,12 M11.8,12.9 H19.6 Q19.6,18 19,19.8 Q18.4,20.8 16.8,20.3 M14.8,12.9 Q14.2,18 8.4,20.8"/>
<path d="M29,4.4 Q28,8 25.8,10.2 M27.8,8.2 H31.3 M26.6,11.8 H31.2 M28.6,11.8 V19.6 L31.4,17.2 M31.6,8.6 H39.9 V14.2 H31.6 Z M36.4,4 V21"/>
</g>
</svg>
</body></html>
